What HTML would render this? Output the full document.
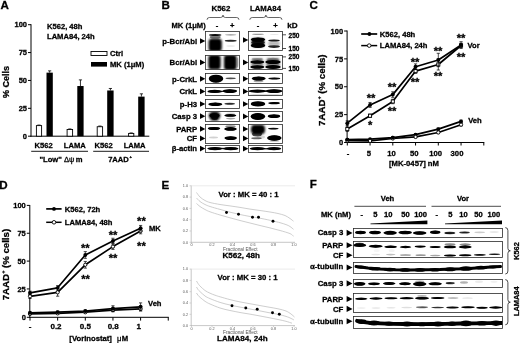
<!DOCTYPE html>
<html><head><meta charset="utf-8"><title>Figure</title>
<style>
html,body{margin:0;padding:0;background:#fff;}
svg{display:block;font-family:"Liberation Sans",sans-serif;}
text{stroke:#000;stroke-width:0.28px;}
text.g{stroke:none;}
</style></head><body>
<svg width="520" height="343" viewBox="0 0 520 343">
<defs>
<filter id="b1" filterUnits="userSpaceOnUse" x="0" y="0" width="520" height="343"><feGaussianBlur stdDeviation="0.7"/></filter>
<filter id="b2" filterUnits="userSpaceOnUse" x="0" y="0" width="520" height="343"><feGaussianBlur stdDeviation="0.6"/></filter>
<filter id="b3" filterUnits="userSpaceOnUse" x="0" y="0" width="520" height="343"><feGaussianBlur stdDeviation="1.1"/></filter>
</defs>
<rect x="0" y="0" width="520" height="343" fill="#fff"/>
<text x="0.5" y="8.6" font-size="11.6" text-anchor="start" font-weight="bold" fill="#000">A</text>
<line x1="31" y1="24.2" x2="31" y2="136.7" stroke="#000" stroke-width="1"/>
<line x1="30.5" y1="136.2" x2="149.3" y2="136.2" stroke="#000" stroke-width="1"/>
<line x1="28" y1="136.2" x2="31" y2="136.2" stroke="#000" stroke-width="1"/>
<text x="27" y="138.89999999999998" font-size="7.5" text-anchor="end" font-weight="bold" fill="#000">0</text>
<line x1="28" y1="108.32499999999999" x2="31" y2="108.32499999999999" stroke="#000" stroke-width="1"/>
<text x="27" y="111.02499999999999" font-size="7.5" text-anchor="end" font-weight="bold" fill="#000">25</text>
<line x1="28" y1="80.44999999999999" x2="31" y2="80.44999999999999" stroke="#000" stroke-width="1"/>
<text x="27" y="83.14999999999999" font-size="7.5" text-anchor="end" font-weight="bold" fill="#000">50</text>
<line x1="28" y1="52.57499999999999" x2="31" y2="52.57499999999999" stroke="#000" stroke-width="1"/>
<text x="27" y="55.27499999999999" font-size="7.5" text-anchor="end" font-weight="bold" fill="#000">75</text>
<line x1="28" y1="24.69999999999999" x2="31" y2="24.69999999999999" stroke="#000" stroke-width="1"/>
<text x="27" y="27.399999999999988" font-size="7.5" text-anchor="end" font-weight="bold" fill="#000">100</text>
<text x="9" y="82" font-size="9" text-anchor="middle" font-weight="bold" fill="#000" transform="rotate(-90 9 82)">% Cells</text>
<text x="47" y="29" font-size="7.6" text-anchor="start" font-weight="bold" fill="#000">K562, 48h</text>
<text x="47" y="39" font-size="7.6" text-anchor="start" font-weight="bold" fill="#000">LAMA84, 24h</text>
<rect x="91" y="51.5" width="16" height="4" fill="#fff" stroke="#000" stroke-width="0.9"/>
<rect x="91" y="62" width="16" height="4.6" fill="#000"/>
<text x="110" y="56.3" font-size="7.6" text-anchor="start" font-weight="bold" fill="#000">Ctrl</text>
<text x="110" y="67.3" font-size="7.6" text-anchor="start" font-weight="bold" fill="#000">MK (1μM)</text>
<line x1="39.0" y1="125.60749999999999" x2="39.0" y2="125.04999999999998" stroke="#000" stroke-width="0.8"/>
<line x1="37.4" y1="125.04999999999998" x2="40.6" y2="125.04999999999998" stroke="#000" stroke-width="0.8"/>
<rect x="36.4" y="125.60749999999999" width="5.2" height="10.592500000000001" fill="#fff" stroke="#000" stroke-width="0.9"/>
<line x1="49.65" y1="72.64499999999998" x2="49.65" y2="70.86099999999998" stroke="#000" stroke-width="0.8"/>
<line x1="48.05" y1="70.86099999999998" x2="51.25" y2="70.86099999999998" stroke="#000" stroke-width="0.8"/>
<rect x="46.5" y="72.64499999999998" width="6.299999999999997" height="63.55500000000001" fill="#000"/>
<line x1="69.85" y1="129.51" x2="69.85" y2="128.9525" stroke="#000" stroke-width="0.8"/>
<line x1="68.25" y1="128.9525" x2="71.44999999999999" y2="128.9525" stroke="#000" stroke-width="0.8"/>
<rect x="67.10000000000001" y="129.51" width="5.499999999999997" height="6.689999999999998" fill="#fff" stroke="#000" stroke-width="0.9"/>
<line x1="80.44999999999999" y1="86.02499999999999" x2="80.44999999999999" y2="79.89249999999998" stroke="#000" stroke-width="0.8"/>
<line x1="78.85" y1="79.89249999999998" x2="82.04999999999998" y2="79.89249999999998" stroke="#000" stroke-width="0.8"/>
<rect x="77.3" y="86.02499999999999" width="6.299999999999997" height="50.175" fill="#000"/>
<line x1="99.9" y1="126.7225" x2="99.9" y2="126.0535" stroke="#000" stroke-width="0.8"/>
<line x1="98.30000000000001" y1="126.0535" x2="101.5" y2="126.0535" stroke="#000" stroke-width="0.8"/>
<rect x="97.2" y="126.7225" width="5.400000000000003" height="9.477499999999992" fill="#fff" stroke="#000" stroke-width="0.9"/>
<line x1="110.4" y1="90.48499999999999" x2="110.4" y2="88.47799999999998" stroke="#000" stroke-width="0.8"/>
<line x1="108.80000000000001" y1="88.47799999999998" x2="112.0" y2="88.47799999999998" stroke="#000" stroke-width="0.8"/>
<rect x="107.2" y="90.48499999999999" width="6.3999999999999915" height="45.715" fill="#000"/>
<line x1="131.2" y1="133.4125" x2="131.2" y2="132.9665" stroke="#000" stroke-width="0.8"/>
<line x1="129.6" y1="132.9665" x2="132.79999999999998" y2="132.9665" stroke="#000" stroke-width="0.8"/>
<rect x="128.6" y="133.4125" width="5.2" height="2.7874999999999943" fill="#fff" stroke="#000" stroke-width="0.9"/>
<line x1="141.39999999999998" y1="96.61749999999998" x2="141.39999999999998" y2="93.82999999999998" stroke="#000" stroke-width="0.8"/>
<line x1="139.79999999999998" y1="93.82999999999998" x2="142.99999999999997" y2="93.82999999999998" stroke="#000" stroke-width="0.8"/>
<rect x="138.2" y="96.61749999999998" width="6.400000000000006" height="39.58250000000001" fill="#000"/>
<text x="43.6" y="148" font-size="7.6" text-anchor="middle" font-weight="bold" fill="#000">K562</text>
<text x="74.8" y="148" font-size="7.6" text-anchor="middle" font-weight="bold" fill="#000">LAMA</text>
<text x="103.6" y="148" font-size="7.6" text-anchor="middle" font-weight="bold" fill="#000">K562</text>
<text x="134.6" y="148" font-size="7.6" text-anchor="middle" font-weight="bold" fill="#000">LAMA</text>
<line x1="31.2" y1="151.3" x2="88" y2="151.3" stroke="#000" stroke-width="0.9"/>
<line x1="93.2" y1="151.3" x2="149" y2="151.3" stroke="#000" stroke-width="0.9"/>
<text x="61" y="161.5" font-size="7.6" text-anchor="middle" font-weight="bold" fill="#000">"Low" <tspan font-weight="normal" class="g">Δψ</tspan><tspan dx="1.3">m</tspan></text>
<text x="120" y="161.5" font-size="7.6" text-anchor="middle" font-weight="bold" fill="#000">7AAD<tspan font-size="4.2" dy="-3.2" dx="0.6">+</tspan></text>
<text x="161.6" y="8.7" font-size="11.6" text-anchor="start" font-weight="bold" fill="#000">B</text>
<text x="220.9" y="11.2" font-size="7.9" text-anchor="middle" font-weight="bold" fill="#000">K562</text>
<text x="265.5" y="11.2" font-size="7.75" text-anchor="middle" font-weight="bold" fill="#000">LAMA84</text>
<path d="M207,19.8 Q207,17.5 209.5,17.5 L220.5,17.5 Q223.0,17.5 223.0,15.100000000000001 Q223.0,17.5 225.5,17.5 L236.5,17.5 Q239,17.5 239,19.8" fill="none" stroke="#000" stroke-width="0.6"/>
<path d="M249.8,19.8 Q249.8,17.5 252.3,17.5 L263.4,17.5 Q265.9,17.5 265.9,15.100000000000001 Q265.9,17.5 268.4,17.5 L279.5,17.5 Q282,17.5 282,19.8" fill="none" stroke="#000" stroke-width="0.6"/>
<text x="171.5" y="27.9" font-size="7.6" text-anchor="start" font-weight="bold" fill="#000">MK (1μM)</text>
<text x="217" y="27.9" font-size="7.6" text-anchor="middle" font-weight="bold" fill="#000">-</text>
<text x="232.3" y="27.9" font-size="7.6" text-anchor="middle" font-weight="bold" fill="#000">+</text>
<text x="258" y="27.9" font-size="7.6" text-anchor="middle" font-weight="bold" fill="#000">-</text>
<text x="275.5" y="27.9" font-size="7.6" text-anchor="middle" font-weight="bold" fill="#000">+</text>
<text x="287.2" y="28.1" font-size="8.1" text-anchor="start" font-weight="bold" fill="#000">kD</text>
<text x="197.1" y="43.7" font-size="7.75" text-anchor="end" font-weight="bold" fill="#000">p-Bcr/Abl</text>
<polygon points="200,38.15 205.3,41 200,43.85" fill="#000"/>
<polygon points="243,37.15 248.3,40 243,42.85" fill="#000"/>
<text x="197.1" y="65.1" font-size="7.75" text-anchor="end" font-weight="bold" fill="#000">Bcr/Abl</text>
<polygon points="200,59.55 205.3,62.4 200,65.25" fill="#000"/>
<polygon points="243,59.55 248.3,62.4 243,65.25" fill="#000"/>
<text x="197.1" y="81.5" font-size="7.75" text-anchor="end" font-weight="bold" fill="#000">p-CrkL</text>
<polygon points="200,75.95 205.3,78.8 200,81.64999999999999" fill="#000"/>
<polygon points="243,75.95 248.3,78.8 243,81.64999999999999" fill="#000"/>
<text x="197.1" y="94.10000000000001" font-size="7.75" text-anchor="end" font-weight="bold" fill="#000">CrkL</text>
<polygon points="200,88.55000000000001 205.3,91.4 200,94.25" fill="#000"/>
<polygon points="243,88.55000000000001 248.3,91.4 243,94.25" fill="#000"/>
<text x="197.1" y="106.7" font-size="7.75" text-anchor="end" font-weight="bold" fill="#000">p-H3</text>
<polygon points="200,101.15 205.3,104 200,106.85" fill="#000"/>
<polygon points="243,101.15 248.3,104 243,106.85" fill="#000"/>
<text x="197.1" y="118.9" font-size="7.75" text-anchor="end" font-weight="bold" fill="#000">Casp 3</text>
<polygon points="200,113.35000000000001 205.3,116.2 200,119.05" fill="#000"/>
<polygon points="243,113.55000000000001 248.3,116.4 243,119.25" fill="#000"/>
<text x="197.1" y="151.29999999999998" font-size="7.75" text-anchor="end" font-weight="bold" fill="#000">β-actin</text>
<polygon points="200,145.75 205.3,148.6 200,151.45" fill="#000"/>
<polygon points="243,145.85 248.3,148.7 243,151.54999999999998" fill="#000"/>
<text x="197.1" y="131.5" font-size="7.75" text-anchor="end" font-weight="bold" fill="#000">PARP</text>
<polygon points="200,126.05000000000001 205.3,128.9 200,131.75" fill="#000"/>
<polygon points="243,126.15 248.3,129 243,131.85" fill="#000"/>
<text x="197.1" y="141.2" font-size="7.75" text-anchor="end" font-weight="bold" fill="#000">CF</text>
<polygon points="200,135.55 205.3,138.4 200,141.25" fill="#000"/>
<polygon points="243,135.55 248.3,138.4 243,141.25" fill="#000"/>
<clipPath id="c1"><rect x="205.5" y="31.5" width="34.0" height="19.0"/></clipPath>
<rect x="205.5" y="31.5" width="34.0" height="19.0" fill="#fff"/>
<g clip-path="url(#c1)">
<g filter="url(#b3)">
<rect x="208.6" y="38.5" width="13.2" height="13" rx="3.5" fill="#000" fill-opacity="1"/>
<rect x="209.2" y="39.0" width="12" height="11" rx="3" fill="#000" fill-opacity="1"/>
</g>
<g filter="url(#b1)">
<ellipse cx="215.2" cy="35.0" rx="6.25" ry="1.00" fill="#000" fill-opacity="0.95"/>
<ellipse cx="215.2" cy="37.0" rx="5.50" ry="1.50" fill="#000" fill-opacity="0.5"/>
<ellipse cx="230.7" cy="40.8" rx="6.00" ry="1.00" fill="#000" fill-opacity="0.85"/>
<ellipse cx="230.7" cy="34.8" rx="5.75" ry="0.65" fill="#000" fill-opacity="0.45"/>
<ellipse cx="230.7" cy="46.0" rx="4.50" ry="0.75" fill="#000" fill-opacity="0.1"/>
</g></g>
<rect x="205.5" y="31.5" width="34.0" height="19.0" fill="none" stroke="#2a2a2a" stroke-width="0.8"/>
<clipPath id="c2"><rect x="248.5" y="31.5" width="34.0" height="19.0"/></clipPath>
<rect x="248.5" y="31.5" width="34.0" height="19.0" fill="#fff"/>
<g clip-path="url(#c2)">
<g filter="url(#b3)">
<rect x="251.8" y="38.2" width="12.4" height="8.5" rx="2" fill="#000" fill-opacity="0.8"/>
<rect x="268.2" y="41.6" width="11.5" height="4" rx="1" fill="#000" fill-opacity="0.3"/>
</g>
<g filter="url(#b1)">
<ellipse cx="258.0" cy="39.6" rx="7.25" ry="2.20" fill="#000" fill-opacity="1"/>
<ellipse cx="258.0" cy="39.6" rx="6.25" ry="1.80" fill="#000" fill-opacity="1"/>
<ellipse cx="258.0" cy="45.5" rx="7.25" ry="2.40" fill="#000" fill-opacity="1"/>
<ellipse cx="258.0" cy="45.5" rx="6.25" ry="2.00" fill="#000" fill-opacity="1"/>
<ellipse cx="258.0" cy="42.5" rx="6.75" ry="2.50" fill="#000" fill-opacity="0.75"/>
<ellipse cx="258.0" cy="34.3" rx="6.00" ry="0.65" fill="#000" fill-opacity="0.4"/>
<ellipse cx="274.0" cy="40.5" rx="5.75" ry="1.10" fill="#000" fill-opacity="0.9"/>
<ellipse cx="274.0" cy="46.6" rx="6.00" ry="1.40" fill="#000" fill-opacity="0.85"/>
<ellipse cx="274.3" cy="34.6" rx="4.50" ry="0.50" fill="#000" fill-opacity="0.1"/>
</g></g>
<rect x="248.5" y="31.5" width="34.0" height="19.0" fill="none" stroke="#2a2a2a" stroke-width="0.8"/>
<clipPath id="c3"><rect x="205.5" y="55.5" width="34.0" height="14.0"/></clipPath>
<rect x="205.5" y="55.5" width="34.0" height="14.0" fill="#fff"/>
<g clip-path="url(#c3)">
<g filter="url(#b3)">
<rect x="208.4" y="55.1" width="12.2" height="14.5" rx="3" fill="#000" fill-opacity="1"/>
<rect x="208.8" y="56.0" width="11.4" height="12" rx="3" fill="#000" fill-opacity="1"/>
<rect x="224.0" y="55.1" width="12.6" height="15" rx="3" fill="#000" fill-opacity="1"/>
<rect x="224.4" y="56.1" width="11.8" height="12.5" rx="3" fill="#000" fill-opacity="1"/>
</g>
<g filter="url(#b1)">
<ellipse cx="237.6" cy="62.5" rx="0.75" ry="5.00" fill="#000" fill-opacity="0.25"/>
</g></g>
<rect x="205.5" y="55.5" width="34.0" height="14.0" fill="none" stroke="#2a2a2a" stroke-width="0.8"/>
<clipPath id="c4"><rect x="248.5" y="55.5" width="34.0" height="14.0"/></clipPath>
<rect x="248.5" y="55.5" width="34.0" height="14.0" fill="#fff"/>
<g clip-path="url(#c4)">
<g filter="url(#b3)">
<rect x="251.3" y="58.5" width="12" height="10" rx="2" fill="#000" fill-opacity="0.45"/>
<rect x="266.2" y="58.2" width="13.5" height="10.5" rx="2" fill="#000" fill-opacity="0.5"/>
</g>
<g filter="url(#b1)">
<ellipse cx="257.3" cy="62.0" rx="7.00" ry="1.70" fill="#000" fill-opacity="1"/>
<ellipse cx="257.3" cy="62.0" rx="6.00" ry="1.30" fill="#000" fill-opacity="1"/>
<ellipse cx="257.3" cy="67.0" rx="7.00" ry="1.70" fill="#000" fill-opacity="1"/>
<ellipse cx="257.3" cy="67.0" rx="6.00" ry="1.30" fill="#000" fill-opacity="1"/>
<ellipse cx="257.3" cy="59.0" rx="5.50" ry="1.00" fill="#000" fill-opacity="0.3"/>
<ellipse cx="273.0" cy="62.0" rx="7.75" ry="2.00" fill="#000" fill-opacity="1"/>
<ellipse cx="273.0" cy="62.0" rx="6.75" ry="1.60" fill="#000" fill-opacity="1"/>
<ellipse cx="273.0" cy="67.0" rx="7.75" ry="1.90" fill="#000" fill-opacity="1"/>
<ellipse cx="273.0" cy="67.0" rx="6.75" ry="1.50" fill="#000" fill-opacity="1"/>
<ellipse cx="273.0" cy="59.0" rx="6.00" ry="1.20" fill="#000" fill-opacity="0.3"/>
</g></g>
<rect x="248.5" y="55.5" width="34.0" height="14.0" fill="none" stroke="#2a2a2a" stroke-width="0.8"/>
<clipPath id="c5"><rect x="205.5" y="73.5" width="34.0" height="10.0"/></clipPath>
<rect x="205.5" y="73.5" width="34.0" height="10.0" fill="#fff"/>
<g clip-path="url(#c5)">
<g filter="url(#b1)">
<ellipse cx="216.0" cy="78.7" rx="7.25" ry="4.00" fill="#000" fill-opacity="1"/>
<ellipse cx="216.0" cy="78.7" rx="6.50" ry="3.50" fill="#000" fill-opacity="1"/>
<ellipse cx="216.0" cy="78.7" rx="5.50" ry="3.00" fill="#000" fill-opacity="1"/>
<ellipse cx="230.7" cy="78.3" rx="5.25" ry="0.85" fill="#000" fill-opacity="0.7"/>
</g></g>
<rect x="205.5" y="73.5" width="34.0" height="10.0" fill="none" stroke="#2a2a2a" stroke-width="0.8"/>
<clipPath id="c6"><rect x="248.5" y="73.5" width="34.0" height="10.0"/></clipPath>
<rect x="248.5" y="73.5" width="34.0" height="10.0" fill="#fff"/>
<g clip-path="url(#c6)">
<g filter="url(#b1)">
<ellipse cx="258.7" cy="78.5" rx="7.00" ry="2.10" fill="#000" fill-opacity="1"/>
<ellipse cx="258.7" cy="78.5" rx="6.00" ry="1.80" fill="#000" fill-opacity="1"/>
<ellipse cx="258.5" cy="81.0" rx="5.00" ry="1.25" fill="#000" fill-opacity="0.35"/>
<ellipse cx="274.3" cy="78.5" rx="6.00" ry="1.00" fill="#000" fill-opacity="0.95"/>
<ellipse cx="274.3" cy="78.5" rx="4.50" ry="0.70" fill="#000" fill-opacity="0.6"/>
</g></g>
<rect x="248.5" y="73.5" width="34.0" height="10.0" fill="none" stroke="#2a2a2a" stroke-width="0.8"/>
<clipPath id="c7"><rect x="205.5" y="87.5" width="34.0" height="8.0"/></clipPath>
<rect x="205.5" y="87.5" width="34.0" height="8.0" fill="#fff"/>
<g clip-path="url(#c7)">
<g filter="url(#b1)">
<ellipse cx="214.7" cy="91.4" rx="7.25" ry="1.70" fill="#000" fill-opacity="1"/>
<ellipse cx="214.7" cy="91.4" rx="6.00" ry="1.40" fill="#000" fill-opacity="1"/>
<ellipse cx="229.9" cy="91.1" rx="7.25" ry="1.90" fill="#000" fill-opacity="1"/>
<ellipse cx="229.9" cy="91.1" rx="6.00" ry="1.50" fill="#000" fill-opacity="1"/>
<ellipse cx="222.3" cy="91.4" rx="3.00" ry="0.65" fill="#000" fill-opacity="0.9"/>
</g></g>
<rect x="205.5" y="87.5" width="34.0" height="8.0" fill="none" stroke="#2a2a2a" stroke-width="0.8"/>
<clipPath id="c8"><rect x="248.5" y="87.5" width="34.0" height="8.0"/></clipPath>
<rect x="248.5" y="87.5" width="34.0" height="8.0" fill="#fff"/>
<g clip-path="url(#c8)">
<g filter="url(#b1)">
<ellipse cx="257.5" cy="91.2" rx="8.75" ry="1.60" fill="#000" fill-opacity="1"/>
<ellipse cx="257.5" cy="91.2" rx="7.00" ry="1.30" fill="#000" fill-opacity="1"/>
<ellipse cx="274.0" cy="91.1" rx="8.25" ry="1.90" fill="#000" fill-opacity="1"/>
<ellipse cx="274.0" cy="91.1" rx="7.00" ry="1.50" fill="#000" fill-opacity="1"/>
<ellipse cx="265.5" cy="91.2" rx="20.00" ry="0.65" fill="#000" fill-opacity="0.9"/>
<ellipse cx="265.5" cy="94.6" rx="17.00" ry="0.45" fill="#000" fill-opacity="0.18"/>
</g></g>
<rect x="248.5" y="87.5" width="34.0" height="8.0" fill="none" stroke="#2a2a2a" stroke-width="0.8"/>
<clipPath id="c9"><rect x="205.5" y="99.5" width="34.0" height="9.0"/></clipPath>
<rect x="205.5" y="99.5" width="34.0" height="9.0" fill="#fff"/>
<g clip-path="url(#c9)">
<g filter="url(#b1)">
<ellipse cx="215.3" cy="104.3" rx="7.00" ry="1.75" fill="#000" fill-opacity="1"/>
<ellipse cx="215.3" cy="104.3" rx="6.00" ry="1.50" fill="#000" fill-opacity="1"/>
<ellipse cx="229.7" cy="103.8" rx="5.25" ry="1.00" fill="#000" fill-opacity="0.75"/>
<ellipse cx="229.7" cy="103.8" rx="3.50" ry="0.70" fill="#000" fill-opacity="0.4"/>
</g></g>
<rect x="205.5" y="99.5" width="34.0" height="9.0" fill="none" stroke="#2a2a2a" stroke-width="0.8"/>
<clipPath id="c10"><rect x="248.5" y="99.5" width="34.0" height="9.0"/></clipPath>
<rect x="248.5" y="99.5" width="34.0" height="9.0" fill="#fff"/>
<g clip-path="url(#c10)">
<g filter="url(#b1)">
<ellipse cx="258.0" cy="103.9" rx="7.25" ry="2.60" fill="#000" fill-opacity="1"/>
<ellipse cx="258.0" cy="103.9" rx="6.50" ry="2.20" fill="#000" fill-opacity="1"/>
<ellipse cx="274.1" cy="103.1" rx="6.00" ry="1.20" fill="#000" fill-opacity="1"/>
<ellipse cx="275.3" cy="103.0" rx="4.00" ry="1.00" fill="#000" fill-opacity="0.7"/>
</g></g>
<rect x="248.5" y="99.5" width="34.0" height="9.0" fill="none" stroke="#2a2a2a" stroke-width="0.8"/>
<clipPath id="c11"><rect x="205.5" y="111.5" width="34.0" height="10.0"/></clipPath>
<rect x="205.5" y="111.5" width="34.0" height="10.0" fill="#fff"/>
<g clip-path="url(#c11)">
<g filter="url(#b3)">
<rect x="209.8" y="111.2" width="9.5" height="9.5" rx="3.5" fill="#000" fill-opacity="0.9"/>
<rect x="208.8" y="113.1" width="11.5" height="5" rx="2.2" fill="#000" fill-opacity="1"/>
</g>
<g filter="url(#b1)">
<ellipse cx="214.5" cy="115.6" rx="5.00" ry="2.00" fill="#000" fill-opacity="1"/>
<ellipse cx="214.7" cy="116.5" rx="3.50" ry="3.50" fill="#000" fill-opacity="0.8"/>
<ellipse cx="230.3" cy="115.4" rx="6.00" ry="1.40" fill="#000" fill-opacity="1"/>
<ellipse cx="230.3" cy="115.4" rx="5.00" ry="1.10" fill="#000" fill-opacity="0.8"/>
<ellipse cx="230.7" cy="118.6" rx="4.75" ry="0.80" fill="#000" fill-opacity="0.35"/>
<ellipse cx="230.7" cy="113.2" rx="4.50" ry="0.70" fill="#000" fill-opacity="0.15"/>
</g></g>
<rect x="205.5" y="111.5" width="34.0" height="10.0" fill="none" stroke="#2a2a2a" stroke-width="0.8"/>
<clipPath id="c12"><rect x="248.5" y="111.5" width="34.0" height="10.0"/></clipPath>
<rect x="248.5" y="111.5" width="34.0" height="10.0" fill="#fff"/>
<g clip-path="url(#c12)">
<g filter="url(#b1)">
<ellipse cx="257.9" cy="116.5" rx="7.25" ry="3.40" fill="#000" fill-opacity="1"/>
<ellipse cx="257.9" cy="116.5" rx="6.50" ry="3.00" fill="#000" fill-opacity="1"/>
<ellipse cx="257.9" cy="116.5" rx="5.50" ry="2.50" fill="#000" fill-opacity="1"/>
<ellipse cx="274.0" cy="116.2" rx="6.25" ry="1.90" fill="#000" fill-opacity="1"/>
<ellipse cx="274.0" cy="116.2" rx="5.25" ry="1.50" fill="#000" fill-opacity="1"/>
</g></g>
<rect x="248.5" y="111.5" width="34.0" height="10.0" fill="none" stroke="#2a2a2a" stroke-width="0.8"/>
<clipPath id="c13"><rect x="205.5" y="124.5" width="34.0" height="19.0"/></clipPath>
<rect x="205.5" y="124.5" width="34.0" height="19.0" fill="#fff"/>
<g clip-path="url(#c13)">
<g filter="url(#b1)">
<ellipse cx="214.0" cy="128.5" rx="6.25" ry="1.60" fill="#000" fill-opacity="1"/>
<ellipse cx="214.0" cy="128.5" rx="5.25" ry="1.30" fill="#000" fill-opacity="1"/>
<ellipse cx="213.5" cy="137.5" rx="4.50" ry="0.90" fill="#000" fill-opacity="0.18"/>
<ellipse cx="230.5" cy="128.9" rx="6.25" ry="1.80" fill="#000" fill-opacity="1"/>
<ellipse cx="230.5" cy="128.9" rx="5.50" ry="1.50" fill="#000" fill-opacity="0.9"/>
<ellipse cx="230.5" cy="126.5" rx="5.25" ry="1.30" fill="#000" fill-opacity="0.45"/>
<ellipse cx="230.7" cy="138.1" rx="6.25" ry="1.90" fill="#000" fill-opacity="1"/>
<ellipse cx="230.7" cy="138.1" rx="5.50" ry="1.60" fill="#000" fill-opacity="1"/>
</g></g>
<rect x="205.5" y="124.5" width="34.0" height="19.0" fill="none" stroke="#2a2a2a" stroke-width="0.8"/>
<clipPath id="c14"><rect x="248.5" y="124.5" width="34.0" height="19.0"/></clipPath>
<rect x="248.5" y="124.5" width="34.0" height="19.0" fill="#fff"/>
<g clip-path="url(#c14)">
<g filter="url(#b3)">
<rect x="251.0" y="124.8" width="14" height="9.5" rx="4" fill="#000" fill-opacity="1"/>
<rect x="251.8" y="125.5" width="12.5" height="8" rx="3.5" fill="#000" fill-opacity="1"/>
</g>
<g filter="url(#b1)">
<ellipse cx="257.0" cy="134.0" rx="5.00" ry="2.50" fill="#000" fill-opacity="0.7"/>
<ellipse cx="256.5" cy="138.3" rx="5.25" ry="0.95" fill="#000" fill-opacity="0.6"/>
<ellipse cx="261.0" cy="137.0" rx="4.00" ry="1.50" fill="#000" fill-opacity="0.15"/>
<ellipse cx="273.3" cy="128.6" rx="5.25" ry="0.95" fill="#000" fill-opacity="0.95"/>
<ellipse cx="273.3" cy="128.6" rx="4.00" ry="0.70" fill="#000" fill-opacity="0.6"/>
<ellipse cx="274.3" cy="138.0" rx="7.25" ry="2.80" fill="#000" fill-opacity="1"/>
<ellipse cx="274.3" cy="138.0" rx="6.50" ry="2.50" fill="#000" fill-opacity="1"/>
<ellipse cx="274.3" cy="138.0" rx="5.50" ry="2.00" fill="#000" fill-opacity="1"/>
<ellipse cx="274.3" cy="141.3" rx="5.00" ry="0.75" fill="#000" fill-opacity="0.2"/>
</g></g>
<rect x="248.5" y="124.5" width="34.0" height="19.0" fill="none" stroke="#2a2a2a" stroke-width="0.8"/>
<clipPath id="c15"><rect x="205.5" y="145.5" width="34.0" height="7.0"/></clipPath>
<rect x="205.5" y="145.5" width="34.0" height="7.0" fill="#fff"/>
<g clip-path="url(#c15)">
<g filter="url(#b1)">
<ellipse cx="215.0" cy="148.6" rx="7.75" ry="1.60" fill="#000" fill-opacity="1"/>
<ellipse cx="215.0" cy="148.6" rx="6.50" ry="1.30" fill="#000" fill-opacity="1"/>
<ellipse cx="230.7" cy="148.6" rx="7.75" ry="1.70" fill="#000" fill-opacity="1"/>
<ellipse cx="230.7" cy="148.6" rx="6.50" ry="1.40" fill="#000" fill-opacity="1"/>
<ellipse cx="222.8" cy="148.6" rx="2.50" ry="0.75" fill="#000" fill-opacity="0.9"/>
</g></g>
<rect x="205.5" y="145.5" width="34.0" height="7.0" fill="none" stroke="#2a2a2a" stroke-width="0.8"/>
<clipPath id="c16"><rect x="248.5" y="145.5" width="34.0" height="7.0"/></clipPath>
<rect x="248.5" y="145.5" width="34.0" height="7.0" fill="#fff"/>
<g clip-path="url(#c16)">
<g filter="url(#b1)">
<ellipse cx="257.5" cy="148.7" rx="7.75" ry="1.60" fill="#000" fill-opacity="1"/>
<ellipse cx="257.5" cy="148.7" rx="6.50" ry="1.30" fill="#000" fill-opacity="1"/>
<ellipse cx="274.0" cy="148.7" rx="7.25" ry="1.60" fill="#000" fill-opacity="1"/>
<ellipse cx="274.0" cy="148.7" rx="6.00" ry="1.30" fill="#000" fill-opacity="1"/>
<ellipse cx="266.0" cy="148.7" rx="2.50" ry="0.70" fill="#000" fill-opacity="0.9"/>
</g></g>
<rect x="248.5" y="145.5" width="34.0" height="7.0" fill="none" stroke="#2a2a2a" stroke-width="0.8"/>
<line x1="282.5" y1="34.8" x2="286" y2="34.8" stroke="#000" stroke-width="0.7"/>
<text x="288.6" y="37.99999999999999" font-size="6.5" text-anchor="start" font-weight="bold" fill="#000">250</text>
<line x1="282.5" y1="48.5" x2="286" y2="48.5" stroke="#000" stroke-width="0.7"/>
<text x="288.6" y="50.8" font-size="6.5" text-anchor="start" font-weight="bold" fill="#000">150</text>
<line x1="282.5" y1="56.9" x2="286" y2="56.9" stroke="#000" stroke-width="0.7"/>
<text x="288.6" y="59.199999999999996" font-size="6.5" text-anchor="start" font-weight="bold" fill="#000">250</text>
<line x1="282.5" y1="68.4" x2="286" y2="68.4" stroke="#000" stroke-width="0.7"/>
<text x="288.6" y="70.7" font-size="6.5" text-anchor="start" font-weight="bold" fill="#000">150</text>
<text x="309.6" y="8.8" font-size="11.6" text-anchor="start" font-weight="bold" fill="#000">C</text>
<line x1="347.1" y1="30.5" x2="347.1" y2="143.0" stroke="#000" stroke-width="1"/>
<line x1="346.6" y1="142.5" x2="484.3" y2="142.5" stroke="#000" stroke-width="1"/>
<line x1="344.1" y1="142.5" x2="347.1" y2="142.5" stroke="#000" stroke-width="1"/>
<text x="343.1" y="145.2" font-size="7.5" text-anchor="end" font-weight="bold" fill="#000">0</text>
<line x1="344.1" y1="114.625" x2="347.1" y2="114.625" stroke="#000" stroke-width="1"/>
<text x="343.1" y="117.325" font-size="7.5" text-anchor="end" font-weight="bold" fill="#000">25</text>
<line x1="344.1" y1="86.75" x2="347.1" y2="86.75" stroke="#000" stroke-width="1"/>
<text x="343.1" y="89.45" font-size="7.5" text-anchor="end" font-weight="bold" fill="#000">50</text>
<line x1="344.1" y1="58.875" x2="347.1" y2="58.875" stroke="#000" stroke-width="1"/>
<text x="343.1" y="61.575" font-size="7.5" text-anchor="end" font-weight="bold" fill="#000">75</text>
<line x1="344.1" y1="31.0" x2="347.1" y2="31.0" stroke="#000" stroke-width="1"/>
<text x="343.1" y="33.7" font-size="7.5" text-anchor="end" font-weight="bold" fill="#000">100</text>
<line x1="347.3" y1="142.5" x2="347.3" y2="145.5" stroke="#000" stroke-width="1"/>
<line x1="370.05" y1="142.5" x2="370.05" y2="145.5" stroke="#000" stroke-width="1"/>
<line x1="392.8" y1="142.5" x2="392.8" y2="145.5" stroke="#000" stroke-width="1"/>
<line x1="415.55" y1="142.5" x2="415.55" y2="145.5" stroke="#000" stroke-width="1"/>
<line x1="438.3" y1="142.5" x2="438.3" y2="145.5" stroke="#000" stroke-width="1"/>
<line x1="461.05" y1="142.5" x2="461.05" y2="145.5" stroke="#000" stroke-width="1"/>
<line x1="483.8" y1="142.5" x2="483.8" y2="145.5" stroke="#000" stroke-width="1"/>
<text x="348" y="155.5" font-size="7.7" text-anchor="middle" font-weight="bold" fill="#000">-</text>
<text x="368.8" y="155.5" font-size="7.7" text-anchor="middle" font-weight="bold" fill="#000">5</text>
<text x="391.6" y="155.5" font-size="7.7" text-anchor="middle" font-weight="bold" fill="#000">10</text>
<text x="414.3" y="155.5" font-size="7.7" text-anchor="middle" font-weight="bold" fill="#000">50</text>
<text x="435.7" y="155.5" font-size="7.7" text-anchor="middle" font-weight="bold" fill="#000">100</text>
<text x="457" y="155.5" font-size="7.7" text-anchor="middle" font-weight="bold" fill="#000">300</text>
<text x="414" y="166.4" font-size="7.7" text-anchor="middle" font-weight="bold" fill="#000">[MK-0457] nM</text>
<text x="325" y="90.2" font-size="9" text-anchor="middle" font-weight="bold" fill="#000" transform="rotate(-90 325 90.2)" textLength="71.4" lengthAdjust="spacingAndGlyphs">7AAD<tspan font-size="4.5" dy="-3.8" dx="0.4">+</tspan><tspan dy="3.8"> (% cells)</tspan></text>
<line x1="415.55" y1="133.803" x2="415.55" y2="135.587" stroke="#000" stroke-width="0.7"/>
<line x1="413.95" y1="133.803" x2="417.15000000000003" y2="133.803" stroke="#000" stroke-width="0.7"/>
<line x1="413.95" y1="135.587" x2="417.15000000000003" y2="135.587" stroke="#000" stroke-width="0.7"/>
<line x1="438.3" y1="128.005" x2="438.3" y2="130.235" stroke="#000" stroke-width="0.7"/>
<line x1="436.7" y1="128.005" x2="439.90000000000003" y2="128.005" stroke="#000" stroke-width="0.7"/>
<line x1="436.7" y1="130.235" x2="439.90000000000003" y2="130.235" stroke="#000" stroke-width="0.7"/>
<line x1="461.05" y1="120.08850000000001" x2="461.05" y2="122.7645" stroke="#000" stroke-width="0.7"/>
<line x1="459.45" y1="120.08850000000001" x2="462.65000000000003" y2="120.08850000000001" stroke="#000" stroke-width="0.7"/>
<line x1="459.45" y1="122.7645" x2="462.65000000000003" y2="122.7645" stroke="#000" stroke-width="0.7"/>
<polyline points="347.3,139.6 370.1,139.2 392.8,137.6 415.6,134.7 438.3,129.1 461.1,121.4" fill="none" stroke="#000" stroke-width="1.7" stroke-linejoin="round"/>
<circle cx="347.3" cy="139.601" r="1.95" fill="#000"/>
<circle cx="370.05" cy="139.155" r="1.95" fill="#000"/>
<circle cx="392.8" cy="137.594" r="1.95" fill="#000"/>
<circle cx="415.55" cy="134.695" r="1.95" fill="#000"/>
<circle cx="438.3" cy="129.12" r="1.95" fill="#000"/>
<circle cx="461.05" cy="121.4265" r="1.95" fill="#000"/>
<line x1="415.55" y1="136.03300000000002" x2="415.55" y2="137.817" stroke="#000" stroke-width="0.7"/>
<line x1="413.95" y1="136.03300000000002" x2="417.15000000000003" y2="136.03300000000002" stroke="#000" stroke-width="0.7"/>
<line x1="413.95" y1="137.817" x2="417.15000000000003" y2="137.817" stroke="#000" stroke-width="0.7"/>
<line x1="438.3" y1="131.35" x2="438.3" y2="133.58" stroke="#000" stroke-width="0.7"/>
<line x1="436.7" y1="131.35" x2="439.90000000000003" y2="131.35" stroke="#000" stroke-width="0.7"/>
<line x1="436.7" y1="133.58" x2="439.90000000000003" y2="133.58" stroke="#000" stroke-width="0.7"/>
<line x1="461.05" y1="123.322" x2="461.05" y2="125.99799999999999" stroke="#000" stroke-width="0.7"/>
<line x1="459.45" y1="123.322" x2="462.65000000000003" y2="123.322" stroke="#000" stroke-width="0.7"/>
<line x1="459.45" y1="125.99799999999999" x2="462.65000000000003" y2="125.99799999999999" stroke="#000" stroke-width="0.7"/>
<polyline points="347.3,140.7 370.1,140.9 392.8,138.5 415.6,136.9 438.3,132.5 461.1,124.7" fill="none" stroke="#000" stroke-width="1.7" stroke-linejoin="round"/>
<circle cx="347.3" cy="140.716" r="1.65" fill="#fff" stroke="#000" stroke-width="0.9"/>
<circle cx="370.05" cy="140.939" r="1.65" fill="#fff" stroke="#000" stroke-width="0.9"/>
<circle cx="392.8" cy="138.486" r="1.65" fill="#fff" stroke="#000" stroke-width="0.9"/>
<circle cx="415.55" cy="136.925" r="1.65" fill="#fff" stroke="#000" stroke-width="0.9"/>
<circle cx="438.3" cy="132.465" r="1.65" fill="#fff" stroke="#000" stroke-width="0.9"/>
<circle cx="461.05" cy="124.66" r="1.65" fill="#fff" stroke="#000" stroke-width="0.9"/>
<circle cx="347.3" cy="139.601" r="1.95" fill="#000"/>
<circle cx="392.8" cy="137.594" r="1.95" fill="#000"/>
<line x1="347.3" y1="126.89" x2="347.3" y2="131.35" stroke="#000" stroke-width="0.7"/>
<line x1="345.7" y1="126.89" x2="348.90000000000003" y2="126.89" stroke="#000" stroke-width="0.7"/>
<line x1="345.7" y1="131.35" x2="348.90000000000003" y2="131.35" stroke="#000" stroke-width="0.7"/>
<line x1="370.05" y1="114.06750000000001" x2="370.05" y2="117.41250000000001" stroke="#000" stroke-width="0.7"/>
<line x1="368.45" y1="114.06750000000001" x2="371.65000000000003" y2="114.06750000000001" stroke="#000" stroke-width="0.7"/>
<line x1="368.45" y1="117.41250000000001" x2="371.65000000000003" y2="117.41250000000001" stroke="#000" stroke-width="0.7"/>
<line x1="392.8" y1="99.238" x2="392.8" y2="103.69800000000001" stroke="#000" stroke-width="0.7"/>
<line x1="391.2" y1="99.238" x2="394.40000000000003" y2="99.238" stroke="#000" stroke-width="0.7"/>
<line x1="391.2" y1="103.69800000000001" x2="394.40000000000003" y2="103.69800000000001" stroke="#000" stroke-width="0.7"/>
<line x1="415.55" y1="68.91" x2="415.55" y2="73.37" stroke="#000" stroke-width="0.7"/>
<line x1="413.95" y1="68.91" x2="417.15000000000003" y2="68.91" stroke="#000" stroke-width="0.7"/>
<line x1="413.95" y1="73.37" x2="417.15000000000003" y2="73.37" stroke="#000" stroke-width="0.7"/>
<line x1="438.3" y1="58.875" x2="438.3" y2="70.025" stroke="#000" stroke-width="0.7"/>
<line x1="436.7" y1="58.875" x2="439.90000000000003" y2="58.875" stroke="#000" stroke-width="0.7"/>
<line x1="436.7" y1="70.025" x2="439.90000000000003" y2="70.025" stroke="#000" stroke-width="0.7"/>
<line x1="461.05" y1="43.26500000000001" x2="461.05" y2="47.725" stroke="#000" stroke-width="0.7"/>
<line x1="459.45" y1="43.26500000000001" x2="462.65000000000003" y2="43.26500000000001" stroke="#000" stroke-width="0.7"/>
<line x1="459.45" y1="47.725" x2="462.65000000000003" y2="47.725" stroke="#000" stroke-width="0.7"/>
<polyline points="347.3,129.1 370.1,115.7 392.8,101.5 415.6,71.1 438.3,64.5 461.1,45.5" fill="none" stroke="#000" stroke-width="1.7" stroke-linejoin="round"/>
<rect x="345.75" y="127.57000000000001" width="3.0999999999999996" height="3.0999999999999996" fill="#fff" stroke="#000" stroke-width="0.9"/>
<rect x="368.5" y="114.19000000000001" width="3.0999999999999996" height="3.0999999999999996" fill="#fff" stroke="#000" stroke-width="0.9"/>
<rect x="391.25" y="99.918" width="3.0999999999999996" height="3.0999999999999996" fill="#fff" stroke="#000" stroke-width="0.9"/>
<rect x="414.0" y="69.59" width="3.0999999999999996" height="3.0999999999999996" fill="#fff" stroke="#000" stroke-width="0.9"/>
<rect x="436.75" y="62.9" width="3.0999999999999996" height="3.0999999999999996" fill="#fff" stroke="#000" stroke-width="0.9"/>
<rect x="459.5" y="43.945" width="3.0999999999999996" height="3.0999999999999996" fill="#fff" stroke="#000" stroke-width="0.9"/>
<line x1="347.3" y1="120.7575" x2="347.3" y2="125.6635" stroke="#000" stroke-width="0.7"/>
<line x1="345.7" y1="120.7575" x2="348.90000000000003" y2="120.7575" stroke="#000" stroke-width="0.7"/>
<line x1="345.7" y1="125.6635" x2="348.90000000000003" y2="125.6635" stroke="#000" stroke-width="0.7"/>
<line x1="370.05" y1="102.47149999999999" x2="370.05" y2="107.3775" stroke="#000" stroke-width="0.7"/>
<line x1="368.45" y1="102.47149999999999" x2="371.65000000000003" y2="102.47149999999999" stroke="#000" stroke-width="0.7"/>
<line x1="368.45" y1="107.3775" x2="371.65000000000003" y2="107.3775" stroke="#000" stroke-width="0.7"/>
<line x1="392.8" y1="91.76750000000001" x2="392.8" y2="97.3425" stroke="#000" stroke-width="0.7"/>
<line x1="391.2" y1="91.76750000000001" x2="394.40000000000003" y2="91.76750000000001" stroke="#000" stroke-width="0.7"/>
<line x1="391.2" y1="97.3425" x2="394.40000000000003" y2="97.3425" stroke="#000" stroke-width="0.7"/>
<line x1="415.55" y1="63.892500000000005" x2="415.55" y2="69.4675" stroke="#000" stroke-width="0.7"/>
<line x1="413.95" y1="63.892500000000005" x2="417.15000000000003" y2="63.892500000000005" stroke="#000" stroke-width="0.7"/>
<line x1="413.95" y1="69.4675" x2="417.15000000000003" y2="69.4675" stroke="#000" stroke-width="0.7"/>
<line x1="438.3" y1="53.3" x2="438.3" y2="66.67999999999999" stroke="#000" stroke-width="0.7"/>
<line x1="436.7" y1="53.3" x2="439.90000000000003" y2="53.3" stroke="#000" stroke-width="0.7"/>
<line x1="436.7" y1="66.67999999999999" x2="439.90000000000003" y2="66.67999999999999" stroke="#000" stroke-width="0.7"/>
<line x1="461.05" y1="41.70399999999999" x2="461.05" y2="48.39399999999999" stroke="#000" stroke-width="0.7"/>
<line x1="459.45" y1="41.70399999999999" x2="462.65000000000003" y2="41.70399999999999" stroke="#000" stroke-width="0.7"/>
<line x1="459.45" y1="48.39399999999999" x2="462.65000000000003" y2="48.39399999999999" stroke="#000" stroke-width="0.7"/>
<polyline points="347.3,123.2 370.1,104.9 392.8,94.6 415.6,66.7 438.3,60.0 461.1,45.0" fill="none" stroke="#000" stroke-width="1.7" stroke-linejoin="round"/>
<circle cx="347.3" cy="123.2105" r="1.95" fill="#000"/>
<circle cx="370.05" cy="104.9245" r="1.95" fill="#000"/>
<circle cx="392.8" cy="94.555" r="1.95" fill="#000"/>
<circle cx="415.55" cy="66.68" r="1.95" fill="#000"/>
<circle cx="438.3" cy="59.989999999999995" r="1.95" fill="#000"/>
<circle cx="461.05" cy="45.04899999999999" r="1.95" fill="#000"/>
<line x1="361.2" y1="34" x2="377.2" y2="34" stroke="#000" stroke-width="1.7"/>
<circle cx="369.4" cy="34" r="1.9" fill="#000"/>
<line x1="361.2" y1="45.6" x2="377.2" y2="45.6" stroke="#000" stroke-width="1.5"/>
<circle cx="369.2" cy="45.6" r="1.8" fill="#fff" stroke="#000" stroke-width="0.9"/>
<text x="379.8" y="36.6" font-size="7.6" text-anchor="start" font-weight="bold" fill="#000">K562, 48h</text>
<text x="379.8" y="48.2" font-size="7.6" text-anchor="start" font-weight="bold" fill="#000">LAMA84, 24h</text>
<text x="467.5" y="47.8" font-size="7.6" text-anchor="start" font-weight="bold" fill="#000">Vor</text>
<text x="468.2" y="122.6" font-size="7.6" text-anchor="start" font-weight="bold" fill="#000">Veh</text>
<text x="371" y="102.1" font-size="11.2" text-anchor="middle" font-weight="bold" fill="#000">**</text>
<text x="370.3" y="129.4" font-size="11.2" text-anchor="middle" font-weight="bold" fill="#000">*</text>
<text x="392" y="91.1" font-size="11.2" text-anchor="middle" font-weight="bold" fill="#000">**</text>
<text x="392" y="115.1" font-size="11.2" text-anchor="middle" font-weight="bold" fill="#000">**</text>
<text x="415" y="66.1" font-size="11.2" text-anchor="middle" font-weight="bold" fill="#000">**</text>
<text x="415" y="86.1" font-size="11.2" text-anchor="middle" font-weight="bold" fill="#000">**</text>
<text x="438" y="54.6" font-size="11.2" text-anchor="middle" font-weight="bold" fill="#000">**</text>
<text x="438" y="79.6" font-size="11.2" text-anchor="middle" font-weight="bold" fill="#000">**</text>
<text x="461" y="41.6" font-size="11.2" text-anchor="middle" font-weight="bold" fill="#000">**</text>
<text x="461" y="61.1" font-size="11.2" text-anchor="middle" font-weight="bold" fill="#000">**</text>
<text x="-0.8" y="188.5" font-size="11.6" text-anchor="start" font-weight="bold" fill="#000">D</text>
<line x1="29.8" y1="205" x2="29.8" y2="317.8" stroke="#000" stroke-width="1"/>
<line x1="29.3" y1="317.3" x2="168.75" y2="317.3" stroke="#000" stroke-width="1"/>
<line x1="26.8" y1="317.3" x2="29.8" y2="317.3" stroke="#000" stroke-width="1"/>
<text x="25.8" y="320.0" font-size="7.5" text-anchor="end" font-weight="bold" fill="#000">0</text>
<line x1="26.8" y1="288.95" x2="29.8" y2="288.95" stroke="#000" stroke-width="1"/>
<text x="25.8" y="291.65" font-size="7.5" text-anchor="end" font-weight="bold" fill="#000">25</text>
<line x1="26.8" y1="261.1" x2="29.8" y2="261.1" stroke="#000" stroke-width="1"/>
<text x="25.8" y="263.8" font-size="7.5" text-anchor="end" font-weight="bold" fill="#000">50</text>
<line x1="26.8" y1="233.25" x2="29.8" y2="233.25" stroke="#000" stroke-width="1"/>
<text x="25.8" y="235.95" font-size="7.5" text-anchor="end" font-weight="bold" fill="#000">75</text>
<line x1="26.8" y1="205.4" x2="29.8" y2="205.4" stroke="#000" stroke-width="1"/>
<text x="25.8" y="208.1" font-size="7.5" text-anchor="end" font-weight="bold" fill="#000">100</text>
<line x1="30.0" y1="317.3" x2="30.0" y2="320.6" stroke="#000" stroke-width="1"/>
<line x1="57.65" y1="317.3" x2="57.65" y2="320.6" stroke="#000" stroke-width="1"/>
<line x1="85.3" y1="317.3" x2="85.3" y2="320.6" stroke="#000" stroke-width="1"/>
<line x1="112.94999999999999" y1="317.3" x2="112.94999999999999" y2="320.6" stroke="#000" stroke-width="1"/>
<line x1="140.6" y1="317.3" x2="140.6" y2="320.6" stroke="#000" stroke-width="1"/>
<line x1="168.25" y1="317.3" x2="168.25" y2="320.6" stroke="#000" stroke-width="1"/>
<text x="30" y="329.3" font-size="8" text-anchor="middle" font-weight="bold" fill="#000">-</text>
<text x="56" y="329.3" font-size="8" text-anchor="middle" font-weight="bold" fill="#000">0.2</text>
<text x="85.4" y="329.3" font-size="8" text-anchor="middle" font-weight="bold" fill="#000">0.5</text>
<text x="113.2" y="329.3" font-size="8" text-anchor="middle" font-weight="bold" fill="#000">0.8</text>
<text x="138.8" y="329.3" font-size="8" text-anchor="middle" font-weight="bold" fill="#000">1</text>
<text x="98.8" y="340.8" font-size="7.7" text-anchor="middle" font-weight="bold" fill="#000">[Vorinostat]<tspan dx="5.2" font-weight="normal" class="g">μ</tspan><tspan dx="0.3">M</tspan></text>
<text x="8.6" y="264.6" font-size="9" text-anchor="middle" font-weight="bold" fill="#000" transform="rotate(-90 8.6 264.6)" textLength="71.4" lengthAdjust="spacingAndGlyphs">7AAD<tspan font-size="4.5" dy="-3.8" dx="0.4">+</tspan><tspan dy="3.8"> (% cells)</tspan></text>
<line x1="30.0" y1="313.23519999999996" x2="30.0" y2="314.572" stroke="#000" stroke-width="0.7"/>
<line x1="28.4" y1="313.23519999999996" x2="31.6" y2="313.23519999999996" stroke="#000" stroke-width="0.7"/>
<line x1="28.4" y1="314.572" x2="31.6" y2="314.572" stroke="#000" stroke-width="0.7"/>
<line x1="57.65" y1="312.4554" x2="57.65" y2="314.23780000000005" stroke="#000" stroke-width="0.7"/>
<line x1="56.05" y1="312.4554" x2="59.25" y2="312.4554" stroke="#000" stroke-width="0.7"/>
<line x1="56.05" y1="314.23780000000005" x2="59.25" y2="314.23780000000005" stroke="#000" stroke-width="0.7"/>
<line x1="85.3" y1="311.34139999999996" x2="85.3" y2="313.1238" stroke="#000" stroke-width="0.7"/>
<line x1="83.7" y1="311.34139999999996" x2="86.89999999999999" y2="311.34139999999996" stroke="#000" stroke-width="0.7"/>
<line x1="83.7" y1="313.1238" x2="86.89999999999999" y2="313.1238" stroke="#000" stroke-width="0.7"/>
<line x1="112.94999999999999" y1="308.445" x2="112.94999999999999" y2="311.787" stroke="#000" stroke-width="0.7"/>
<line x1="111.35" y1="308.445" x2="114.54999999999998" y2="308.445" stroke="#000" stroke-width="0.7"/>
<line x1="111.35" y1="311.787" x2="114.54999999999998" y2="311.787" stroke="#000" stroke-width="0.7"/>
<line x1="140.6" y1="306.5512" x2="140.6" y2="311.0072" stroke="#000" stroke-width="0.7"/>
<line x1="139.0" y1="306.5512" x2="142.2" y2="306.5512" stroke="#000" stroke-width="0.7"/>
<line x1="139.0" y1="311.0072" x2="142.2" y2="311.0072" stroke="#000" stroke-width="0.7"/>
<polyline points="30.0,313.9 57.6,313.3 85.3,312.2 112.9,310.1 140.6,308.8" fill="none" stroke="#000" stroke-width="1.7" stroke-linejoin="round"/>
<circle cx="30.0" cy="313.9036" r="1.65" fill="#fff" stroke="#000" stroke-width="0.9"/>
<circle cx="57.65" cy="313.3466" r="1.65" fill="#fff" stroke="#000" stroke-width="0.9"/>
<circle cx="85.3" cy="312.2326" r="1.65" fill="#fff" stroke="#000" stroke-width="0.9"/>
<circle cx="112.94999999999999" cy="310.116" r="1.65" fill="#fff" stroke="#000" stroke-width="0.9"/>
<circle cx="140.6" cy="308.7792" r="1.65" fill="#fff" stroke="#000" stroke-width="0.9"/>
<line x1="30.0" y1="312.1212" x2="30.0" y2="313.458" stroke="#000" stroke-width="0.7"/>
<line x1="28.4" y1="312.1212" x2="31.6" y2="312.1212" stroke="#000" stroke-width="0.7"/>
<line x1="28.4" y1="313.458" x2="31.6" y2="313.458" stroke="#000" stroke-width="0.7"/>
<line x1="57.65" y1="311.0072" x2="57.65" y2="313.23519999999996" stroke="#000" stroke-width="0.7"/>
<line x1="56.05" y1="311.0072" x2="59.25" y2="311.0072" stroke="#000" stroke-width="0.7"/>
<line x1="56.05" y1="313.23519999999996" x2="59.25" y2="313.23519999999996" stroke="#000" stroke-width="0.7"/>
<line x1="85.3" y1="310.116" x2="85.3" y2="311.89840000000004" stroke="#000" stroke-width="0.7"/>
<line x1="83.7" y1="310.116" x2="86.89999999999999" y2="310.116" stroke="#000" stroke-width="0.7"/>
<line x1="83.7" y1="311.89840000000004" x2="86.89999999999999" y2="311.89840000000004" stroke="#000" stroke-width="0.7"/>
<line x1="112.94999999999999" y1="305.77139999999997" x2="112.94999999999999" y2="311.3414" stroke="#000" stroke-width="0.7"/>
<line x1="111.35" y1="305.77139999999997" x2="114.54999999999998" y2="305.77139999999997" stroke="#000" stroke-width="0.7"/>
<line x1="111.35" y1="311.3414" x2="114.54999999999998" y2="311.3414" stroke="#000" stroke-width="0.7"/>
<line x1="140.6" y1="302.875" x2="140.6" y2="310.673" stroke="#000" stroke-width="0.7"/>
<line x1="139.0" y1="302.875" x2="142.2" y2="302.875" stroke="#000" stroke-width="0.7"/>
<line x1="139.0" y1="310.673" x2="142.2" y2="310.673" stroke="#000" stroke-width="0.7"/>
<polyline points="30.0,312.8 57.6,312.1 85.3,311.0 112.9,308.6 140.6,306.8" fill="none" stroke="#000" stroke-width="1.7" stroke-linejoin="round"/>
<circle cx="30.0" cy="312.7896" r="1.95" fill="#000"/>
<circle cx="57.65" cy="312.1212" r="1.95" fill="#000"/>
<circle cx="85.3" cy="311.0072" r="1.95" fill="#000"/>
<circle cx="112.94999999999999" cy="308.5564" r="1.95" fill="#000"/>
<circle cx="140.6" cy="306.774" r="1.95" fill="#000"/>
<line x1="30.0" y1="294.0744" x2="30.0" y2="298.53040000000004" stroke="#000" stroke-width="0.7"/>
<line x1="28.4" y1="294.0744" x2="31.6" y2="294.0744" stroke="#000" stroke-width="0.7"/>
<line x1="28.4" y1="298.53040000000004" x2="31.6" y2="298.53040000000004" stroke="#000" stroke-width="0.7"/>
<line x1="57.65" y1="288.39300000000003" x2="57.65" y2="296.19100000000003" stroke="#000" stroke-width="0.7"/>
<line x1="56.05" y1="288.39300000000003" x2="59.25" y2="288.39300000000003" stroke="#000" stroke-width="0.7"/>
<line x1="56.05" y1="296.19100000000003" x2="59.25" y2="296.19100000000003" stroke="#000" stroke-width="0.7"/>
<line x1="85.3" y1="261.43420000000003" x2="85.3" y2="268.1182" stroke="#000" stroke-width="0.7"/>
<line x1="83.7" y1="261.43420000000003" x2="86.89999999999999" y2="261.43420000000003" stroke="#000" stroke-width="0.7"/>
<line x1="83.7" y1="268.1182" x2="86.89999999999999" y2="268.1182" stroke="#000" stroke-width="0.7"/>
<line x1="112.94999999999999" y1="243.833" x2="112.94999999999999" y2="249.403" stroke="#000" stroke-width="0.7"/>
<line x1="111.35" y1="243.833" x2="114.54999999999998" y2="243.833" stroke="#000" stroke-width="0.7"/>
<line x1="111.35" y1="249.403" x2="114.54999999999998" y2="249.403" stroke="#000" stroke-width="0.7"/>
<line x1="140.6" y1="228.237" x2="140.6" y2="233.807" stroke="#000" stroke-width="0.7"/>
<line x1="139.0" y1="228.237" x2="142.2" y2="228.237" stroke="#000" stroke-width="0.7"/>
<line x1="139.0" y1="233.807" x2="142.2" y2="233.807" stroke="#000" stroke-width="0.7"/>
<polyline points="30.0,296.3 57.6,292.3 85.3,264.8 112.9,246.6 140.6,231.0" fill="none" stroke="#000" stroke-width="1.7" stroke-linejoin="round"/>
<circle cx="30.0" cy="296.30240000000003" r="1.65" fill="#fff" stroke="#000" stroke-width="0.9"/>
<circle cx="57.65" cy="292.29200000000003" r="1.65" fill="#fff" stroke="#000" stroke-width="0.9"/>
<circle cx="85.3" cy="264.7762" r="1.65" fill="#fff" stroke="#000" stroke-width="0.9"/>
<circle cx="112.94999999999999" cy="246.618" r="1.65" fill="#fff" stroke="#000" stroke-width="0.9"/>
<circle cx="140.6" cy="231.022" r="1.65" fill="#fff" stroke="#000" stroke-width="0.9"/>
<line x1="30.0" y1="291.178" x2="30.0" y2="294.52" stroke="#000" stroke-width="0.7"/>
<line x1="28.4" y1="291.178" x2="31.6" y2="291.178" stroke="#000" stroke-width="0.7"/>
<line x1="28.4" y1="294.52" x2="31.6" y2="294.52" stroke="#000" stroke-width="0.7"/>
<line x1="57.65" y1="285.608" x2="57.65" y2="290.064" stroke="#000" stroke-width="0.7"/>
<line x1="56.05" y1="285.608" x2="59.25" y2="285.608" stroke="#000" stroke-width="0.7"/>
<line x1="56.05" y1="290.064" x2="59.25" y2="290.064" stroke="#000" stroke-width="0.7"/>
<line x1="85.3" y1="251.631" x2="85.3" y2="258.315" stroke="#000" stroke-width="0.7"/>
<line x1="83.7" y1="251.631" x2="86.89999999999999" y2="251.631" stroke="#000" stroke-width="0.7"/>
<line x1="83.7" y1="258.315" x2="86.89999999999999" y2="258.315" stroke="#000" stroke-width="0.7"/>
<line x1="112.94999999999999" y1="238.263" x2="112.94999999999999" y2="243.833" stroke="#000" stroke-width="0.7"/>
<line x1="111.35" y1="238.263" x2="114.54999999999998" y2="238.263" stroke="#000" stroke-width="0.7"/>
<line x1="111.35" y1="243.833" x2="114.54999999999998" y2="243.833" stroke="#000" stroke-width="0.7"/>
<line x1="140.6" y1="225.45200000000003" x2="140.6" y2="231.02200000000002" stroke="#000" stroke-width="0.7"/>
<line x1="139.0" y1="225.45200000000003" x2="142.2" y2="225.45200000000003" stroke="#000" stroke-width="0.7"/>
<line x1="139.0" y1="231.02200000000002" x2="142.2" y2="231.02200000000002" stroke="#000" stroke-width="0.7"/>
<polyline points="30.0,292.8 57.6,287.8 85.3,255.0 112.9,241.0 140.6,228.2" fill="none" stroke="#000" stroke-width="1.7" stroke-linejoin="round"/>
<circle cx="30.0" cy="292.849" r="1.95" fill="#000"/>
<circle cx="57.65" cy="287.836" r="1.95" fill="#000"/>
<circle cx="85.3" cy="254.973" r="1.95" fill="#000"/>
<circle cx="112.94999999999999" cy="241.048" r="1.95" fill="#000"/>
<circle cx="140.6" cy="228.23700000000002" r="1.95" fill="#000"/>
<line x1="46.2" y1="208.9" x2="61.6" y2="208.9" stroke="#000" stroke-width="1.7"/>
<circle cx="54" cy="208.9" r="1.9" fill="#000"/>
<line x1="46.2" y1="222.3" x2="61.6" y2="222.3" stroke="#000" stroke-width="1.5"/>
<circle cx="54" cy="222.3" r="1.8" fill="#fff" stroke="#000" stroke-width="0.9"/>
<text x="64.8" y="211.6" font-size="7.6" text-anchor="start" font-weight="bold" fill="#000">K562, 72h</text>
<text x="64.8" y="224.9" font-size="7.6" text-anchor="start" font-weight="bold" fill="#000">LAMA84, 48h</text>
<text x="149" y="230.8" font-size="7.6" text-anchor="start" font-weight="bold" fill="#000">MK</text>
<text x="148" y="306.2" font-size="7.6" text-anchor="start" font-weight="bold" fill="#000">Veh</text>
<text x="85.3" y="252.1" font-size="11.2" text-anchor="middle" font-weight="bold" fill="#000">**</text>
<text x="85.5" y="283.1" font-size="11.2" text-anchor="middle" font-weight="bold" fill="#000">**</text>
<text x="113" y="238.6" font-size="11.2" text-anchor="middle" font-weight="bold" fill="#000">**</text>
<text x="113" y="262.40000000000003" font-size="11.2" text-anchor="middle" font-weight="bold" fill="#000">**</text>
<text x="141.4" y="225.1" font-size="11.2" text-anchor="middle" font-weight="bold" fill="#000">**</text>
<text x="141.4" y="249.6" font-size="11.2" text-anchor="middle" font-weight="bold" fill="#000">**</text>
<text x="161.4" y="188.5" font-size="11.6" text-anchor="start" font-weight="bold" fill="#000">E</text>
<line x1="191.2" y1="185.5" x2="191.2" y2="242.60000000000002" stroke="#b9b9b9" stroke-width="0.8"/>
<line x1="190.8" y1="242.3" x2="295" y2="242.3" stroke="#b9b9b9" stroke-width="0.8"/>
<line x1="191.2" y1="185.8" x2="295" y2="185.8" stroke="#e2e2e2" stroke-width="0.7"/>
<line x1="189.5" y1="185.8" x2="191.2" y2="185.8" stroke="#b9b9b9" stroke-width="0.6"/>
<text x="188" y="187.10000000000002" font-size="3.8" text-anchor="end" font-weight="normal" fill="#5c5c5c" class="g">1.0</text>
<line x1="189.5" y1="197.10000000000002" x2="191.2" y2="197.10000000000002" stroke="#b9b9b9" stroke-width="0.6"/>
<text x="188" y="198.40000000000003" font-size="3.8" text-anchor="end" font-weight="normal" fill="#5c5c5c" class="g">0.8</text>
<line x1="189.5" y1="208.4" x2="191.2" y2="208.4" stroke="#b9b9b9" stroke-width="0.6"/>
<text x="188" y="209.70000000000002" font-size="3.8" text-anchor="end" font-weight="normal" fill="#5c5c5c" class="g">0.6</text>
<line x1="189.5" y1="219.70000000000002" x2="191.2" y2="219.70000000000002" stroke="#b9b9b9" stroke-width="0.6"/>
<text x="188" y="221.00000000000003" font-size="3.8" text-anchor="end" font-weight="normal" fill="#5c5c5c" class="g">0.4</text>
<line x1="189.5" y1="231.0" x2="191.2" y2="231.0" stroke="#b9b9b9" stroke-width="0.6"/>
<text x="188" y="232.3" font-size="3.8" text-anchor="end" font-weight="normal" fill="#5c5c5c" class="g">0.2</text>
<line x1="189.5" y1="242.3" x2="191.2" y2="242.3" stroke="#b9b9b9" stroke-width="0.6"/>
<text x="188" y="243.60000000000002" font-size="3.8" text-anchor="end" font-weight="normal" fill="#5c5c5c" class="g">0.0</text>
<line x1="191.5" y1="242.3" x2="191.5" y2="243.70000000000002" stroke="#b9b9b9" stroke-width="0.6"/>
<text x="191.5" y="246.20000000000002" font-size="3.8" text-anchor="middle" font-weight="normal" fill="#5c5c5c" class="g">0</text>
<line x1="212.0" y1="242.3" x2="212.0" y2="243.70000000000002" stroke="#b9b9b9" stroke-width="0.6"/>
<text x="212.0" y="246.20000000000002" font-size="3.8" text-anchor="middle" font-weight="normal" fill="#5c5c5c" class="g">0.2</text>
<line x1="232.5" y1="242.3" x2="232.5" y2="243.70000000000002" stroke="#b9b9b9" stroke-width="0.6"/>
<text x="232.5" y="246.20000000000002" font-size="3.8" text-anchor="middle" font-weight="normal" fill="#5c5c5c" class="g">0.4</text>
<line x1="253.0" y1="242.3" x2="253.0" y2="243.70000000000002" stroke="#b9b9b9" stroke-width="0.6"/>
<text x="253.0" y="246.20000000000002" font-size="3.8" text-anchor="middle" font-weight="normal" fill="#5c5c5c" class="g">0.6</text>
<line x1="273.5" y1="242.3" x2="273.5" y2="243.70000000000002" stroke="#b9b9b9" stroke-width="0.6"/>
<text x="273.5" y="246.20000000000002" font-size="3.8" text-anchor="middle" font-weight="normal" fill="#5c5c5c" class="g">0.8</text>
<line x1="294.0" y1="242.3" x2="294.0" y2="243.70000000000002" stroke="#b9b9b9" stroke-width="0.6"/>
<text x="294.0" y="246.20000000000002" font-size="3.8" text-anchor="middle" font-weight="normal" fill="#5c5c5c" class="g">1.0</text>
<path d="M196.5,192.5 C197.1,193.2 198.6,195.7 200,197 C201.4,198.3 203.3,199.6 205,200.5 C206.7,201.4 207.5,201.8 210,202.5 C212.5,203.2 216.7,203.9 220,204.5 C223.3,205.1 226.7,205.4 230,205.9 C233.3,206.4 236.7,206.9 240,207.4 C243.3,207.9 246.7,208.6 250,209.1 C253.3,209.6 256.7,210.0 260,210.5 C263.3,211.0 267.0,211.5 270,212 C273.0,212.5 275.5,212.9 278,213.5 C280.5,214.1 283.0,214.7 285,215.5 C287.0,216.3 288.6,217.6 290,218.5 C291.4,219.4 292.9,220.8 293.5,221.2" fill="none" stroke="#bdbdbd" stroke-width="0.75"/>
<path d="M196.5,198 C197.1,198.6 198.6,200.4 200,201.5 C201.4,202.6 203.3,203.7 205,204.5 C206.7,205.3 207.5,205.7 210,206.5 C212.5,207.3 216.7,208.5 220,209.4 C223.3,210.3 226.7,211.3 230,212.2 C233.3,213.0 236.7,213.8 240,214.5 C243.3,215.2 246.3,215.8 250,216.5 C253.7,217.2 258.2,217.8 262,218.6 C265.8,219.3 270.0,220.3 273,221 C276.0,221.7 277.8,222.1 280,222.7 C282.2,223.3 284.3,224.0 286,224.6 C287.7,225.2 288.8,225.7 290,226.5 C291.2,227.3 292.9,228.8 293.5,229.3" fill="none" stroke="#bdbdbd" stroke-width="0.75"/>
<path d="M196.5,203.5 C197.1,204.0 198.6,205.5 200,206.5 C201.4,207.5 203.3,208.6 205,209.5 C206.7,210.4 207.5,210.9 210,211.8 C212.5,212.7 216.7,214.0 220,215 C223.3,216.0 226.7,216.9 230,217.8 C233.3,218.7 236.7,219.6 240,220.5 C243.3,221.4 246.7,222.2 250,223 C253.3,223.8 256.7,224.7 260,225.5 C263.3,226.3 266.7,227.1 270,227.9 C273.3,228.7 276.7,229.6 280,230.5 C283.3,231.4 287.8,232.7 290,233.6 C292.2,234.5 292.9,235.8 293.5,236.2" fill="none" stroke="#bdbdbd" stroke-width="0.75"/>
<circle cx="226.5" cy="212.5" r="1.45" fill="#000"/>
<circle cx="238.5" cy="214.3" r="1.45" fill="#000"/>
<circle cx="252.5" cy="217.3" r="1.45" fill="#000"/>
<circle cx="258.5" cy="217.3" r="1.45" fill="#000"/>
<circle cx="273" cy="221.3" r="1.45" fill="#000"/>
<text x="248.5" y="196.5" font-size="7.75" text-anchor="middle" font-weight="bold" fill="#000">Vor : MK = 40 : 1</text>
<text x="240.3" y="250.60000000000002" font-size="4.8" text-anchor="middle" font-weight="normal" fill="#555" class="g">Fractional Effect</text>
<text x="241.2" y="258.3" font-size="8.05" text-anchor="middle" font-weight="bold" fill="#000">K562, 48h</text>
<line x1="191.2" y1="268.8" x2="191.2" y2="325.90000000000003" stroke="#b9b9b9" stroke-width="0.8"/>
<line x1="190.8" y1="325.6" x2="295" y2="325.6" stroke="#b9b9b9" stroke-width="0.8"/>
<line x1="191.2" y1="269.1" x2="295" y2="269.1" stroke="#e2e2e2" stroke-width="0.7"/>
<line x1="189.5" y1="269.1" x2="191.2" y2="269.1" stroke="#b9b9b9" stroke-width="0.6"/>
<text x="188" y="270.40000000000003" font-size="3.8" text-anchor="end" font-weight="normal" fill="#5c5c5c" class="g">1.0</text>
<line x1="189.5" y1="280.40000000000003" x2="191.2" y2="280.40000000000003" stroke="#b9b9b9" stroke-width="0.6"/>
<text x="188" y="281.70000000000005" font-size="3.8" text-anchor="end" font-weight="normal" fill="#5c5c5c" class="g">0.8</text>
<line x1="189.5" y1="291.70000000000005" x2="191.2" y2="291.70000000000005" stroke="#b9b9b9" stroke-width="0.6"/>
<text x="188" y="293.00000000000006" font-size="3.8" text-anchor="end" font-weight="normal" fill="#5c5c5c" class="g">0.6</text>
<line x1="189.5" y1="303.0" x2="191.2" y2="303.0" stroke="#b9b9b9" stroke-width="0.6"/>
<text x="188" y="304.3" font-size="3.8" text-anchor="end" font-weight="normal" fill="#5c5c5c" class="g">0.4</text>
<line x1="189.5" y1="314.3" x2="191.2" y2="314.3" stroke="#b9b9b9" stroke-width="0.6"/>
<text x="188" y="315.6" font-size="3.8" text-anchor="end" font-weight="normal" fill="#5c5c5c" class="g">0.2</text>
<line x1="189.5" y1="325.6" x2="191.2" y2="325.6" stroke="#b9b9b9" stroke-width="0.6"/>
<text x="188" y="326.90000000000003" font-size="3.8" text-anchor="end" font-weight="normal" fill="#5c5c5c" class="g">0.0</text>
<line x1="191.5" y1="325.6" x2="191.5" y2="327.0" stroke="#b9b9b9" stroke-width="0.6"/>
<text x="191.5" y="329.5" font-size="3.8" text-anchor="middle" font-weight="normal" fill="#5c5c5c" class="g">0</text>
<line x1="212.0" y1="325.6" x2="212.0" y2="327.0" stroke="#b9b9b9" stroke-width="0.6"/>
<text x="212.0" y="329.5" font-size="3.8" text-anchor="middle" font-weight="normal" fill="#5c5c5c" class="g">0.2</text>
<line x1="232.5" y1="325.6" x2="232.5" y2="327.0" stroke="#b9b9b9" stroke-width="0.6"/>
<text x="232.5" y="329.5" font-size="3.8" text-anchor="middle" font-weight="normal" fill="#5c5c5c" class="g">0.4</text>
<line x1="253.0" y1="325.6" x2="253.0" y2="327.0" stroke="#b9b9b9" stroke-width="0.6"/>
<text x="253.0" y="329.5" font-size="3.8" text-anchor="middle" font-weight="normal" fill="#5c5c5c" class="g">0.6</text>
<line x1="273.5" y1="325.6" x2="273.5" y2="327.0" stroke="#b9b9b9" stroke-width="0.6"/>
<text x="273.5" y="329.5" font-size="3.8" text-anchor="middle" font-weight="normal" fill="#5c5c5c" class="g">0.8</text>
<line x1="294.0" y1="325.6" x2="294.0" y2="327.0" stroke="#b9b9b9" stroke-width="0.6"/>
<text x="294.0" y="329.5" font-size="3.8" text-anchor="middle" font-weight="normal" fill="#5c5c5c" class="g">1.0</text>
<path d="M196.5,281 C196.8,281.4 197.4,282.7 198,283.5 C198.6,284.3 198.8,284.8 200,286 C201.2,287.2 203.3,289.3 205,290.5 C206.7,291.7 208.3,292.4 210,293.2 C211.7,294.0 213.3,294.6 215,295.2 C216.7,295.8 217.5,296.1 220,296.8 C222.5,297.5 226.7,298.8 230,299.6 C233.3,300.5 237.0,301.3 240,301.9 C243.0,302.5 245.0,302.8 248,303.4 C251.0,303.9 254.7,304.6 258,305.2 C261.3,305.8 264.7,306.4 268,307 C271.3,307.6 275.0,308.1 278,308.8 C281.0,309.5 283.8,310.1 286,311 C288.2,311.9 289.6,313.0 291,314 C292.4,315.0 293.9,316.5 294.5,317" fill="none" stroke="#bdbdbd" stroke-width="0.75"/>
<path d="M196.5,287 C196.8,287.4 197.4,288.7 198,289.5 C198.6,290.3 198.8,290.5 200,291.6 C201.2,292.7 203.3,294.8 205,296 C206.7,297.2 207.5,297.5 210,298.6 C212.5,299.7 216.7,301.3 220,302.4 C223.3,303.5 226.7,304.2 230,305 C233.3,305.8 237.0,306.5 240,307.1 C243.0,307.7 245.0,308.0 248,308.6 C251.0,309.2 254.7,309.9 258,310.5 C261.3,311.1 264.7,311.9 268,312.5 C271.3,313.1 275.0,313.7 278,314.3 C281.0,314.9 283.8,315.7 286,316.4 C288.2,317.1 289.7,317.8 291,318.4 C292.3,319.0 293.5,319.7 294,320" fill="none" stroke="#bdbdbd" stroke-width="0.75"/>
<path d="M196.5,293 C196.8,293.4 197.4,294.5 198,295.2 C198.6,295.9 198.8,296.3 200,297.3 C201.2,298.3 203.3,300.2 205,301.3 C206.7,302.4 207.5,302.9 210,304 C212.5,305.1 216.7,306.9 220,308 C223.3,309.1 226.7,309.8 230,310.5 C233.3,311.2 237.0,311.9 240,312.5 C243.0,313.1 245.0,313.3 248,313.8 C251.0,314.3 254.7,315.0 258,315.6 C261.3,316.2 264.7,316.9 268,317.5 C271.3,318.1 275.0,318.9 278,319.5 C281.0,320.1 283.7,320.7 286,321.3 C288.3,321.9 291.0,322.9 292,323.2" fill="none" stroke="#bdbdbd" stroke-width="0.75"/>
<circle cx="232" cy="305.8" r="1.45" fill="#000"/>
<circle cx="245.8" cy="308" r="1.45" fill="#000"/>
<circle cx="257.2" cy="309.3" r="1.45" fill="#000"/>
<circle cx="272.5" cy="312.8" r="1.45" fill="#000"/>
<circle cx="279.3" cy="314.3" r="1.45" fill="#000"/>
<text x="247.5" y="279.8" font-size="7.75" text-anchor="middle" font-weight="bold" fill="#000">Vor : MK = 30 : 1</text>
<text x="240.3" y="333.90000000000003" font-size="4.8" text-anchor="middle" font-weight="normal" fill="#555" class="g">Fractional Effect</text>
<text x="242.3" y="341.20000000000005" font-size="8.05" text-anchor="middle" font-weight="bold" fill="#000">LAMA84, 24h</text>
<text x="309.8" y="188.3" font-size="11.6" text-anchor="start" font-weight="bold" fill="#000">F</text>
<text x="387.5" y="200.6" font-size="7.6" text-anchor="middle" font-weight="bold" fill="#000">Veh</text>
<text x="463" y="200.6" font-size="7.6" text-anchor="middle" font-weight="bold" fill="#000">Vor</text>
<line x1="354.4" y1="206.3" x2="426" y2="206.3" stroke="#000" stroke-width="0.7"/>
<line x1="431.5" y1="206.3" x2="501" y2="206.3" stroke="#000" stroke-width="0.7"/>
<text x="321" y="217.2" font-size="7.6" text-anchor="start" font-weight="bold" fill="#000">MK (nM)</text>
<text x="361.8" y="217.2" font-size="7.6" text-anchor="middle" font-weight="bold" fill="#000">-</text>
<text x="375.3" y="217.2" font-size="7.6" text-anchor="middle" font-weight="bold" fill="#000">5</text>
<text x="388.2" y="217.2" font-size="7.6" text-anchor="middle" font-weight="bold" fill="#000">10</text>
<text x="405.6" y="217.2" font-size="7.6" text-anchor="middle" font-weight="bold" fill="#000">50</text>
<text x="420.6" y="217.2" font-size="7.6" text-anchor="middle" font-weight="bold" fill="#000">100</text>
<text x="436.8" y="217.2" font-size="7.6" text-anchor="middle" font-weight="bold" fill="#000">-</text>
<text x="450.4" y="217.2" font-size="7.6" text-anchor="middle" font-weight="bold" fill="#000">5</text>
<text x="463.6" y="217.2" font-size="7.6" text-anchor="middle" font-weight="bold" fill="#000">10</text>
<text x="478.5" y="217.2" font-size="7.6" text-anchor="middle" font-weight="bold" fill="#000">50</text>
<text x="493.8" y="217.2" font-size="7.6" text-anchor="middle" font-weight="bold" fill="#000">100</text>
<polygon points="370.5,223.6 427.4,220.4 427.4,224.3 370.5,224.3" fill="#000"/>
<polygon points="445,223.6 502,220.4 502,224.3 445,224.3" fill="#000"/>
<text x="343.3" y="235.0" font-size="7.8" text-anchor="end" font-weight="bold" fill="#000">Casp 3</text>
<polygon points="346.6,229.85 352.5,232.9 346.6,235.95000000000002" fill="#000"/>
<text x="343.3" y="248.0" font-size="7.8" text-anchor="end" font-weight="bold" fill="#000">PARP</text>
<polygon points="346.6,242.25 352.5,245.3 346.6,248.35000000000002" fill="#000"/>
<text x="343.3" y="258.3" font-size="7.8" text-anchor="end" font-weight="bold" fill="#000">CF</text>
<polygon points="346.6,252.25 352.5,255.3 346.6,258.35" fill="#000"/>
<text x="343.3" y="269.40000000000003" font-size="7.8" text-anchor="end" font-weight="bold" fill="#000">α-tubulin</text>
<polygon points="346.6,264.45 352.5,267.5 346.6,270.55" fill="#000"/>
<text x="343.3" y="286.3" font-size="7.8" text-anchor="end" font-weight="bold" fill="#000">Casp 3</text>
<polygon points="346.6,280.34999999999997 352.5,283.4 346.6,286.45" fill="#000"/>
<text x="343.3" y="301.6" font-size="7.8" text-anchor="end" font-weight="bold" fill="#000">PARP</text>
<polygon points="346.6,295.95 352.5,299 346.6,302.05" fill="#000"/>
<text x="343.3" y="312.0" font-size="7.8" text-anchor="end" font-weight="bold" fill="#000">CF</text>
<polygon points="346.6,305.84999999999997 352.5,308.9 346.6,311.95" fill="#000"/>
<text x="343.3" y="323.8" font-size="7.8" text-anchor="end" font-weight="bold" fill="#000">α-tubulin</text>
<polygon points="346.6,318.25 352.5,321.3 346.6,324.35" fill="#000"/>
<clipPath id="c17"><rect x="353.5" y="228.5" width="149.0" height="9.0"/></clipPath>
<rect x="353.5" y="228.5" width="149.0" height="9.0" fill="#fff"/>
<g clip-path="url(#c17)">
<g filter="url(#b2)">
<ellipse cx="360.5" cy="232.5" rx="5.50" ry="1.72" fill="#000" fill-opacity="1"/>
<ellipse cx="360.5" cy="232.5" rx="4.51" ry="1.38" fill="#000" fill-opacity="1"/>
<ellipse cx="375.0" cy="232.5" rx="6.00" ry="1.72" fill="#000" fill-opacity="1"/>
<ellipse cx="375.0" cy="232.5" rx="4.92" ry="1.38" fill="#000" fill-opacity="1"/>
<ellipse cx="390.2" cy="232.8" rx="6.75" ry="1.96" fill="#000" fill-opacity="1"/>
<ellipse cx="390.2" cy="232.8" rx="5.53" ry="1.57" fill="#000" fill-opacity="1"/>
<ellipse cx="405.2" cy="232.5" rx="6.75" ry="1.72" fill="#000" fill-opacity="1"/>
<ellipse cx="405.2" cy="232.5" rx="5.53" ry="1.38" fill="#000" fill-opacity="1"/>
<ellipse cx="419.7" cy="233.0" rx="6.75" ry="1.80" fill="#000" fill-opacity="1"/>
<ellipse cx="419.7" cy="233.0" rx="5.53" ry="1.44" fill="#000" fill-opacity="1"/>
<ellipse cx="435.2" cy="232.2" rx="5.25" ry="1.72" fill="#000" fill-opacity="1"/>
<ellipse cx="435.2" cy="232.2" rx="4.30" ry="1.38" fill="#000" fill-opacity="1"/>
<ellipse cx="449.8" cy="233.0" rx="5.50" ry="1.20" fill="#000" fill-opacity="0.85"/>
<ellipse cx="448.8" cy="233.2" rx="3.50" ry="0.80" fill="#000" fill-opacity="0.5"/>
<ellipse cx="464.5" cy="232.5" rx="5.25" ry="1.10" fill="#000" fill-opacity="0.8"/>
<ellipse cx="465.0" cy="232.4" rx="3.00" ry="0.70" fill="#000" fill-opacity="0.45"/>
<ellipse cx="479.7" cy="232.3" rx="5.50" ry="0.85" fill="#000" fill-opacity="0.2"/>
<ellipse cx="494.2" cy="232.1" rx="4.75" ry="0.75" fill="#000" fill-opacity="0.12"/>
</g></g>
<rect x="353.5" y="228.5" width="149.0" height="9.0" fill="none" stroke="#2a2a2a" stroke-width="0.8"/>
<clipPath id="c18"><rect x="353.5" y="241.5" width="149.0" height="16.0"/></clipPath>
<rect x="353.5" y="241.5" width="149.0" height="16.0" fill="#fff"/>
<g clip-path="url(#c18)">
<g filter="url(#b2)">
<ellipse cx="359.7" cy="245.2" rx="6.50" ry="1.68" fill="#000" fill-opacity="1"/>
<ellipse cx="359.7" cy="245.2" rx="5.33" ry="1.34" fill="#000" fill-opacity="1"/>
<ellipse cx="359.5" cy="243.4" rx="4.50" ry="0.70" fill="#000" fill-opacity="0.8"/>
<ellipse cx="375.7" cy="246.2" rx="7.00" ry="1.52" fill="#000" fill-opacity="1"/>
<ellipse cx="375.7" cy="246.2" rx="5.74" ry="1.22" fill="#000" fill-opacity="1"/>
<ellipse cx="390.7" cy="246.8" rx="6.50" ry="1.28" fill="#000" fill-opacity="1"/>
<ellipse cx="390.7" cy="246.8" rx="5.33" ry="1.02" fill="#000" fill-opacity="1"/>
<ellipse cx="405.5" cy="247.0" rx="5.75" ry="1.20" fill="#000" fill-opacity="1"/>
<ellipse cx="405.5" cy="247.0" rx="4.50" ry="0.80" fill="#000" fill-opacity="0.7"/>
<ellipse cx="420.2" cy="246.6" rx="5.50" ry="1.05" fill="#000" fill-opacity="1"/>
<ellipse cx="420.2" cy="246.6" rx="4.25" ry="0.70" fill="#000" fill-opacity="0.6"/>
<ellipse cx="435.2" cy="247.0" rx="5.50" ry="1.10" fill="#000" fill-opacity="1"/>
<ellipse cx="435.2" cy="247.0" rx="4.25" ry="0.75" fill="#000" fill-opacity="0.6"/>
<ellipse cx="450.0" cy="247.0" rx="6.25" ry="1.36" fill="#000" fill-opacity="1"/>
<ellipse cx="450.0" cy="247.0" rx="5.12" ry="1.09" fill="#000" fill-opacity="1"/>
<ellipse cx="450.0" cy="244.6" rx="5.50" ry="1.30" fill="#000" fill-opacity="0.45"/>
<ellipse cx="465.2" cy="247.0" rx="6.50" ry="1.44" fill="#000" fill-opacity="1"/>
<ellipse cx="465.2" cy="247.0" rx="5.33" ry="1.15" fill="#000" fill-opacity="1"/>
<ellipse cx="465.2" cy="244.6" rx="5.75" ry="1.30" fill="#000" fill-opacity="0.45"/>
<ellipse cx="376.7" cy="250.5" rx="3.00" ry="1.50" fill="#000" fill-opacity="0.04"/>
<ellipse cx="391.7" cy="250.5" rx="3.00" ry="1.50" fill="#000" fill-opacity="0.05"/>
<ellipse cx="375.7" cy="254.6" rx="4.50" ry="0.75" fill="#000" fill-opacity="0.1"/>
<ellipse cx="390.7" cy="254.6" rx="4.75" ry="0.80" fill="#000" fill-opacity="0.25"/>
<ellipse cx="405.5" cy="255.0" rx="5.75" ry="0.85" fill="#000" fill-opacity="0.42"/>
<ellipse cx="420.7" cy="255.2" rx="5.25" ry="0.85" fill="#000" fill-opacity="0.4"/>
<ellipse cx="435.2" cy="255.5" rx="5.25" ry="0.70" fill="#000" fill-opacity="0.35"/>
<ellipse cx="450.0" cy="255.5" rx="6.00" ry="1.00" fill="#000" fill-opacity="1"/>
<ellipse cx="450.0" cy="255.5" rx="4.50" ry="0.70" fill="#000" fill-opacity="0.5"/>
<ellipse cx="465.2" cy="255.3" rx="6.25" ry="1.00" fill="#000" fill-opacity="1"/>
<ellipse cx="465.2" cy="255.3" rx="4.50" ry="0.70" fill="#000" fill-opacity="0.5"/>
<ellipse cx="479.8" cy="254.9" rx="6.00" ry="0.90" fill="#000" fill-opacity="0.95"/>
<ellipse cx="479.8" cy="254.9" rx="4.00" ry="0.60" fill="#000" fill-opacity="0.4"/>
<ellipse cx="494.5" cy="254.2" rx="5.75" ry="0.75" fill="#000" fill-opacity="0.9"/>
</g></g>
<rect x="353.5" y="241.5" width="149.0" height="16.0" fill="none" stroke="#2a2a2a" stroke-width="0.8"/>
<clipPath id="c19"><rect x="353.5" y="262.5" width="149.0" height="11.0"/></clipPath>
<rect x="353.5" y="262.5" width="149.0" height="11.0" fill="#fff"/>
<g clip-path="url(#c19)">
<g filter="url(#b2)">
<polyline points="356,266.4 360,267 368,268.1 380,269.1 395,269.8 410,269.9 425,269.8 440,269.6 452,269.1 465,268.7 480,267.8 495,266.8 500.5,266.5" fill="none" stroke="#000" stroke-width="3" stroke-linejoin="round" stroke-linecap="round"/>
<ellipse cx="361.0" cy="267.1" rx="5.00" ry="1.60" fill="#000" fill-opacity="1"/>
<ellipse cx="375.0" cy="268.7" rx="6.50" ry="1.80" fill="#000" fill-opacity="1"/>
<ellipse cx="390.0" cy="269.6" rx="6.50" ry="1.80" fill="#000" fill-opacity="1"/>
<ellipse cx="405.0" cy="269.9" rx="6.50" ry="1.80" fill="#000" fill-opacity="1"/>
<ellipse cx="420.0" cy="269.9" rx="6.50" ry="1.80" fill="#000" fill-opacity="1"/>
<ellipse cx="435.0" cy="269.7" rx="6.50" ry="1.80" fill="#000" fill-opacity="1"/>
<ellipse cx="450.0" cy="269.3" rx="6.50" ry="1.95" fill="#000" fill-opacity="1"/>
<ellipse cx="466.0" cy="268.6" rx="7.00" ry="2.25" fill="#000" fill-opacity="1"/>
<ellipse cx="481.0" cy="267.7" rx="6.50" ry="1.85" fill="#000" fill-opacity="1"/>
<ellipse cx="493.0" cy="267.0" rx="5.00" ry="1.45" fill="#000" fill-opacity="1"/>
</g></g>
<rect x="353.5" y="262.5" width="149.0" height="11.0" fill="none" stroke="#2a2a2a" stroke-width="0.8"/>
<clipPath id="c20"><rect x="353.5" y="279.5" width="149.0" height="8.0"/></clipPath>
<rect x="353.5" y="279.5" width="149.0" height="8.0" fill="#fff"/>
<g clip-path="url(#c20)">
<g filter="url(#b2)">
<ellipse cx="359.7" cy="283.8" rx="5.75" ry="1.92" fill="#000" fill-opacity="1"/>
<ellipse cx="359.7" cy="283.8" rx="4.71" ry="1.54" fill="#000" fill-opacity="1"/>
<ellipse cx="374.0" cy="283.8" rx="6.00" ry="1.36" fill="#000" fill-opacity="1"/>
<ellipse cx="374.0" cy="283.8" rx="4.92" ry="1.09" fill="#000" fill-opacity="1"/>
<ellipse cx="389.2" cy="283.5" rx="6.25" ry="1.56" fill="#000" fill-opacity="1"/>
<ellipse cx="389.2" cy="283.5" rx="5.12" ry="1.25" fill="#000" fill-opacity="1"/>
<ellipse cx="405.0" cy="283.8" rx="6.00" ry="1.52" fill="#000" fill-opacity="1"/>
<ellipse cx="405.0" cy="283.8" rx="4.92" ry="1.22" fill="#000" fill-opacity="1"/>
<ellipse cx="419.7" cy="284.0" rx="6.75" ry="2.16" fill="#000" fill-opacity="1"/>
<ellipse cx="419.7" cy="284.0" rx="5.53" ry="1.73" fill="#000" fill-opacity="1"/>
<ellipse cx="419.7" cy="281.6" rx="4.50" ry="1.00" fill="#000" fill-opacity="0.3"/>
<ellipse cx="435.2" cy="283.8" rx="6.75" ry="1.56" fill="#000" fill-opacity="1"/>
<ellipse cx="435.2" cy="283.8" rx="5.53" ry="1.25" fill="#000" fill-opacity="1"/>
<ellipse cx="450.2" cy="283.2" rx="4.50" ry="1.10" fill="#000" fill-opacity="0.8"/>
<ellipse cx="449.2" cy="283.3" rx="2.75" ry="0.70" fill="#000" fill-opacity="0.5"/>
<ellipse cx="464.0" cy="282.5" rx="4.00" ry="1.20" fill="#000" fill-opacity="0.3"/>
<ellipse cx="479.0" cy="281.8" rx="4.00" ry="1.20" fill="#000" fill-opacity="0.08"/>
<ellipse cx="494.0" cy="281.8" rx="3.50" ry="1.10" fill="#000" fill-opacity="0.06"/>
</g></g>
<rect x="353.5" y="279.5" width="149.0" height="8.0" fill="none" stroke="#2a2a2a" stroke-width="0.8"/>
<clipPath id="c21"><rect x="353.5" y="293.5" width="149.0" height="19.0"/></clipPath>
<rect x="353.5" y="293.5" width="149.0" height="19.0" fill="#fff"/>
<g clip-path="url(#c21)">
<g filter="url(#b2)">
<ellipse cx="361.2" cy="298.8" rx="6.25" ry="1.16" fill="#000" fill-opacity="1"/>
<ellipse cx="361.2" cy="298.8" rx="5.12" ry="0.93" fill="#000" fill-opacity="1"/>
<ellipse cx="376.0" cy="298.5" rx="6.50" ry="1.15" fill="#000" fill-opacity="1"/>
<ellipse cx="376.0" cy="298.5" rx="5.00" ry="0.80" fill="#000" fill-opacity="0.7"/>
<ellipse cx="391.0" cy="298.2" rx="6.50" ry="1.05" fill="#000" fill-opacity="1"/>
<ellipse cx="391.0" cy="298.2" rx="5.00" ry="0.75" fill="#000" fill-opacity="0.6"/>
<ellipse cx="406.7" cy="298.2" rx="7.00" ry="1.10" fill="#000" fill-opacity="1"/>
<ellipse cx="406.7" cy="298.2" rx="5.50" ry="0.80" fill="#000" fill-opacity="0.6"/>
<ellipse cx="422.0" cy="298.2" rx="7.00" ry="1.32" fill="#000" fill-opacity="1"/>
<ellipse cx="422.0" cy="298.2" rx="5.74" ry="1.06" fill="#000" fill-opacity="1"/>
<ellipse cx="422.0" cy="296.0" rx="4.75" ry="0.90" fill="#000" fill-opacity="0.3"/>
<ellipse cx="437.7" cy="298.0" rx="6.75" ry="1.05" fill="#000" fill-opacity="1"/>
<ellipse cx="437.7" cy="298.0" rx="5.00" ry="0.75" fill="#000" fill-opacity="0.6"/>
<ellipse cx="453.0" cy="298.0" rx="5.50" ry="0.70" fill="#000" fill-opacity="0.35"/>
<ellipse cx="467.5" cy="298.0" rx="5.50" ry="0.55" fill="#000" fill-opacity="0.16"/>
<ellipse cx="361.2" cy="308.0" rx="4.50" ry="0.70" fill="#000" fill-opacity="0.08"/>
<ellipse cx="376.0" cy="308.0" rx="4.50" ry="0.70" fill="#000" fill-opacity="0.1"/>
<ellipse cx="391.0" cy="307.8" rx="4.50" ry="0.70" fill="#000" fill-opacity="0.1"/>
<ellipse cx="406.7" cy="307.5" rx="5.50" ry="0.70" fill="#000" fill-opacity="0.13"/>
<ellipse cx="422.0" cy="307.3" rx="6.00" ry="1.00" fill="#000" fill-opacity="0.55"/>
<ellipse cx="423.0" cy="307.3" rx="3.50" ry="0.60" fill="#000" fill-opacity="0.3"/>
<ellipse cx="437.7" cy="307.5" rx="6.50" ry="0.75" fill="#000" fill-opacity="0.8"/>
<ellipse cx="452.5" cy="307.5" rx="6.25" ry="1.00" fill="#000" fill-opacity="0.95"/>
<ellipse cx="452.5" cy="307.5" rx="4.50" ry="0.65" fill="#000" fill-opacity="0.4"/>
<ellipse cx="468.0" cy="307.2" rx="6.75" ry="1.05" fill="#000" fill-opacity="1"/>
<ellipse cx="468.0" cy="307.2" rx="5.25" ry="0.75" fill="#000" fill-opacity="0.6"/>
<ellipse cx="482.0" cy="307.8" rx="5.75" ry="1.05" fill="#000" fill-opacity="1"/>
<ellipse cx="482.0" cy="307.8" rx="4.50" ry="0.75" fill="#000" fill-opacity="0.6"/>
<ellipse cx="495.7" cy="307.5" rx="6.50" ry="1.15" fill="#000" fill-opacity="1"/>
<ellipse cx="495.7" cy="307.5" rx="5.00" ry="0.80" fill="#000" fill-opacity="0.6"/>
</g></g>
<rect x="353.5" y="293.5" width="149.0" height="19.0" fill="none" stroke="#2a2a2a" stroke-width="0.8"/>
<clipPath id="c22"><rect x="353.5" y="316.5" width="149.0" height="12.0"/></clipPath>
<rect x="353.5" y="316.5" width="149.0" height="12.0" fill="#fff"/>
<g clip-path="url(#c22)">
<g filter="url(#b2)">
<polyline points="357,320.8 362,321.8 370,322.8 380,323.3 392,323.8 405,324 420,324.2 432,324 445,323.8 460,323.5 475,323.3 490,323.2 503,323" fill="none" stroke="#000" stroke-width="3.8" stroke-linejoin="round" stroke-linecap="round"/>
<ellipse cx="361.5" cy="321.6" rx="5.00" ry="2.40" fill="#000" fill-opacity="1"/>
<ellipse cx="374.0" cy="323.0" rx="6.50" ry="2.40" fill="#000" fill-opacity="1"/>
<ellipse cx="389.0" cy="323.6" rx="6.00" ry="2.10" fill="#000" fill-opacity="1"/>
<ellipse cx="407.0" cy="324.0" rx="7.00" ry="2.60" fill="#000" fill-opacity="1"/>
<ellipse cx="422.0" cy="324.3" rx="5.50" ry="2.00" fill="#000" fill-opacity="1"/>
<ellipse cx="438.0" cy="324.0" rx="7.00" ry="2.60" fill="#000" fill-opacity="1"/>
<ellipse cx="452.0" cy="323.8" rx="5.50" ry="2.20" fill="#000" fill-opacity="1"/>
<ellipse cx="466.0" cy="323.4" rx="6.50" ry="2.80" fill="#000" fill-opacity="1"/>
<ellipse cx="482.0" cy="323.3" rx="6.50" ry="2.30" fill="#000" fill-opacity="1"/>
<ellipse cx="496.0" cy="323.2" rx="6.00" ry="2.70" fill="#000" fill-opacity="1"/>
</g></g>
<rect x="353.5" y="316.5" width="149.0" height="12.0" fill="none" stroke="#2a2a2a" stroke-width="0.8"/>
<path d="M505.3,227.6 Q507.90000000000003,227.6 507.90000000000003,230.6 L507.90000000000003,248.3 Q507.90000000000003,250.8 510.3,250.8 Q507.90000000000003,250.8 507.90000000000003,253.3 L507.90000000000003,271 Q507.90000000000003,274 505.3,274" fill="none" stroke="#000" stroke-width="0.7"/>
<path d="M505.3,279.6 Q507.90000000000003,279.6 507.90000000000003,282.6 L507.90000000000003,299.70000000000005 Q507.90000000000003,302.20000000000005 510.3,302.20000000000005 Q507.90000000000003,302.20000000000005 507.90000000000003,304.70000000000005 L507.90000000000003,321.8 Q507.90000000000003,324.8 505.3,324.8" fill="none" stroke="#000" stroke-width="0.7"/>
<text x="518.6" y="251" font-size="7.4" text-anchor="middle" font-weight="bold" fill="#000" transform="rotate(-90 518.6 251)">K562</text>
<text x="518.6" y="301.2" font-size="7.4" text-anchor="middle" font-weight="bold" fill="#000" transform="rotate(-90 518.6 301.2)">LAMA84</text>
</svg>
</body></html>
